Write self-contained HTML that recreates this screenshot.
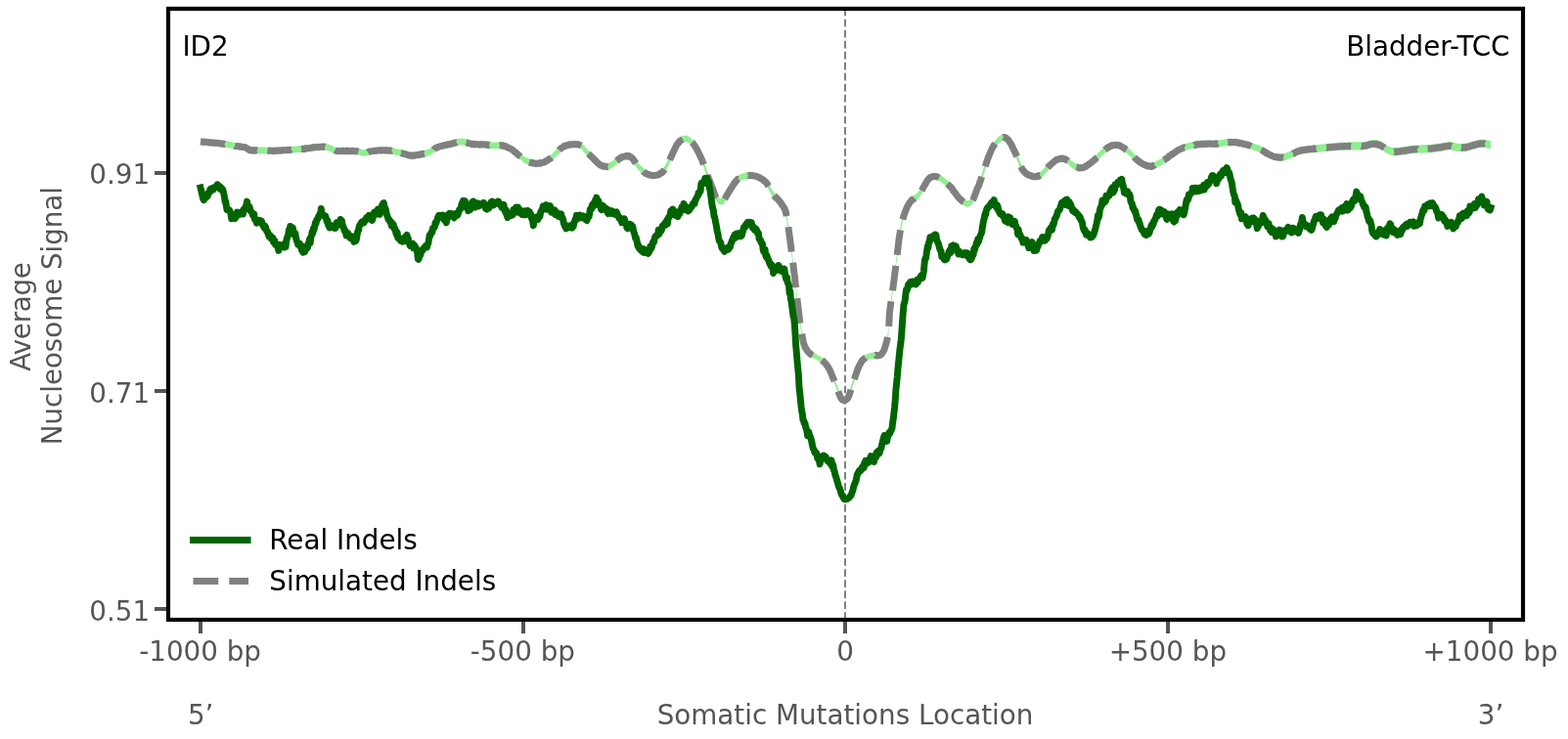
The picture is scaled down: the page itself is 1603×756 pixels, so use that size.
<!DOCTYPE html>
<html lang="en"><head><meta charset="utf-8"><title>Nucleosome occupancy - ID2 - Bladder-TCC</title>
<style>html,body{margin:0;padding:0;background:#fff;overflow:hidden}svg{display:block}</style></head>
<body>
<svg width="1603" height="756" viewBox="0 0 1603 756" font-family="'DejaVu Sans', 'Liberation Sans', sans-serif" font-size="27.78px">
<rect width="1603" height="756" fill="#fff"/>
<line x1="864" y1="634.0" x2="864" y2="8.9" stroke="#808080" stroke-width="2" stroke-dasharray="7.7 3.33"/>
<path d="M205.0 141.5 L207.7 141.8 L211.6 142.1 L216.2 142.6 L220.9 143.0 L225.2 143.5 L228.7 143.9 L231.3 144.2 L233.3 144.6 L235.0 144.9 L236.5 145.2 L238.0 145.6 L239.6 145.9 L241.5 146.1 L243.5 146.4 L245.4 146.6 L247.3 146.8 L249.0 147.1 L250.6 147.4 L251.8 147.9 L252.8 148.4 L253.6 149.0 L254.4 149.6 L255.3 150.1 L256.5 150.4 L257.9 150.6 L259.4 150.6 L261.0 150.6 L262.7 150.5 L264.5 150.4 L266.4 150.4 L268.5 150.5 L270.8 150.6 L273.1 150.7 L275.5 150.8 L278.0 150.8 L280.3 150.8 L282.6 150.8 L284.9 150.6 L287.3 150.5 L289.6 150.3 L291.9 150.2 L294.2 150.0 L296.5 149.9 L298.8 149.7 L301.2 149.6 L303.5 149.4 L305.8 149.2 L308.1 149.0 L310.5 148.8 L312.9 148.5 L315.3 148.2 L317.6 147.9 L319.9 147.7 L322.0 147.4 L323.9 147.3 L325.7 147.1 L327.4 146.9 L329.0 146.8 L330.5 146.8 L331.9 146.8 L333.1 147.0 L334.2 147.2 L335.1 147.4 L336.0 147.8 L336.9 148.1 L337.9 148.4 L338.8 148.8 L339.8 149.3 L340.8 149.8 L341.7 150.3 L342.7 150.7 L343.8 151.0 L344.9 151.2 L345.9 151.2 L346.9 151.2 L348.0 151.1 L349.4 151.0 L351.0 151.0 L353.0 151.0 L355.3 151.1 L357.9 151.1 L360.5 151.2 L362.9 151.3 L364.8 151.4 L366.4 151.6 L367.6 152.0 L368.7 152.3 L369.7 152.7 L370.7 152.9 L371.8 153.0 L373.0 152.9 L374.2 152.7 L375.5 152.4 L376.8 152.0 L378.2 151.7 L379.7 151.4 L381.4 151.2 L383.2 151.0 L385.1 150.8 L387.0 150.6 L388.8 150.5 L390.6 150.4 L392.4 150.4 L394.2 150.5 L395.9 150.6 L397.6 150.7 L399.1 150.9 L400.6 151.0 L401.8 151.2 L402.8 151.4 L403.7 151.6 L404.6 151.9 L405.5 152.2 L406.5 152.4 L407.6 152.7 L408.7 152.9 L409.9 153.2 L411.1 153.4 L412.3 153.7 L413.5 154.0 L414.6 154.3 L415.6 154.7 L416.6 155.1 L417.7 155.4 L419.0 155.7 L420.4 155.8 L422.1 155.7 L424.1 155.5 L426.3 155.1 L428.4 154.7 L430.5 154.4 L432.3 154.0 L433.9 153.7 L435.2 153.4 L436.5 153.1 L437.7 152.7 L439.0 152.3 L440.2 151.8 L441.5 151.2 L442.6 150.4 L443.7 149.5 L444.9 148.7 L446.4 147.8 L448.2 147.0 L450.5 146.3 L453.2 145.6 L456.1 144.9 L459.1 144.2 L461.8 143.6 L464.0 143.1 L465.8 142.6 L467.3 142.2 L468.5 141.9 L469.6 141.7 L470.8 141.5 L472.0 141.5 L473.3 141.6 L474.6 141.9 L476.0 142.3 L477.3 142.8 L478.6 143.2 L479.9 143.5 L481.3 143.7 L482.6 143.9 L484.0 144.1 L485.4 144.2 L486.6 144.4 L487.9 144.5 L489.0 144.5 L490.0 144.5 L491.0 144.5 L492.0 144.5 L492.9 144.5 L493.8 144.5 L494.7 144.5 L495.6 144.6 L496.4 144.6 L497.2 144.7 L498.1 144.8 L499.0 144.9 L499.9 145.0 L500.7 145.1 L501.6 145.2 L502.6 145.3 L503.7 145.4 L504.9 145.5 L506.4 145.5 L508.0 145.5 L509.8 145.5 L511.5 145.5 L513.3 145.6 L514.8 145.9 L516.3 146.2 L517.6 146.7 L518.9 147.3 L520.2 147.9 L521.5 148.7 L522.8 149.4 L524.1 150.3 L525.5 151.3 L526.8 152.3 L528.1 153.3 L529.4 154.4 L530.7 155.4 L531.9 156.4 L533.0 157.4 L534.1 158.4 L535.2 159.3 L536.4 160.2 L537.7 160.9 L539.0 161.6 L540.5 162.2 L542.1 162.7 L543.6 163.2 L545.1 163.5 L546.6 163.7 L548.0 163.8 L549.3 163.8 L550.6 163.7 L551.9 163.6 L553.2 163.3 L554.5 162.9 L555.9 162.5 L557.2 161.9 L558.6 161.3 L559.9 160.6 L561.2 159.8 L562.5 159.0 L563.7 158.0 L564.8 156.9 L566.0 155.8 L567.1 154.6 L568.3 153.5 L569.4 152.4 L570.6 151.3 L571.7 150.2 L572.8 149.1 L574.0 148.1 L575.1 147.2 L576.3 146.5 L577.6 145.9 L578.9 145.4 L580.2 145.1 L581.5 144.8 L582.9 144.6 L584.3 144.5 L585.8 144.4 L587.3 144.3 L588.9 144.3 L590.5 144.4 L591.9 144.7 L593.2 145.1 L594.2 145.7 L595.1 146.4 L595.8 147.3 L596.4 148.3 L597.2 149.3 L598.2 150.4 L599.3 151.6 L600.6 152.9 L602.0 154.3 L603.4 155.7 L604.8 157.0 L606.1 158.4 L607.4 159.7 L608.8 161.1 L610.1 162.4 L611.4 163.7 L612.7 164.8 L614.0 165.7 L615.4 166.3 L616.8 166.7 L618.1 167.0 L619.5 167.1 L620.8 167.0 L622.0 166.9 L623.1 166.6 L624.1 166.1 L625.1 165.5 L626.0 164.8 L627.0 164.0 L627.9 163.3 L628.9 162.5 L629.9 161.7 L630.9 160.7 L631.9 159.8 L632.9 159.0 L633.9 158.4 L634.9 157.8 L635.9 157.4 L637.0 157.0 L638.0 156.7 L639.0 156.5 L639.8 156.4 L640.6 156.3 L641.3 156.2 L642.0 156.3 L642.6 156.4 L643.2 156.5 L643.8 156.8 L644.4 157.0 L644.8 157.3 L645.3 157.6 L645.7 158.0 L646.3 158.6 L647.0 159.3 L647.8 160.4 L648.7 161.6 L649.7 163.0 L650.7 164.5 L651.8 166.0 L652.9 167.3 L654.1 168.6 L655.4 169.9 L656.8 171.1 L658.2 172.3 L659.5 173.4 L660.9 174.2 L662.2 174.9 L663.5 175.4 L664.8 175.8 L666.2 176.1 L667.5 176.2 L668.8 176.2 L670.2 176.1 L671.5 175.8 L672.9 175.4 L674.2 174.9 L675.5 174.1 L676.7 173.2 L677.9 172.1 L678.9 170.8 L679.9 169.3 L680.9 167.7 L681.8 166.0 L682.7 164.3 L683.6 162.6 L684.4 160.8 L685.2 159.0 L686.0 157.1 L686.8 155.2 L687.7 153.4 L688.6 151.5 L689.5 149.5 L690.5 147.5 L691.5 145.6 L692.6 143.9 L693.6 142.5 L694.7 141.3 L695.9 140.4 L697.1 139.6 L698.3 139.1 L699.4 138.7 L700.6 138.5 L701.6 138.6 L702.6 138.8 L703.6 139.3 L704.6 139.9 L705.5 140.6 L706.5 141.5 L707.5 142.5 L708.5 143.6 L709.5 144.8 L710.5 146.2 L711.5 147.8 L712.5 149.4 L713.5 151.3 L714.5 153.3 L715.5 155.5 L716.5 157.8 L717.5 160.1 L718.4 162.3 L719.3 164.6 L720.1 166.9 L721.0 169.3 L721.8 171.6 L722.6 173.9 L723.4 176.2 L724.2 178.5 L725.1 180.7 L725.9 182.9 L726.8 185.1 L727.6 187.1 L728.3 189.1 L729.1 191.0 L729.7 192.9 L730.4 194.7 L731.0 196.3 L731.7 197.8 L732.3 199.0 L733.0 200.1 L733.6 200.9 L734.3 201.5 L734.9 202.0 L735.6 202.4 L736.3 202.6 L736.9 202.7 L737.5 202.8 L738.1 202.7 L738.8 202.4 L739.5 201.8 L740.2 201.0 L741.1 199.8 L742.0 198.3 L743.0 196.6 L744.1 194.7 L745.1 192.8 L746.2 191.1 L747.3 189.4 L748.4 187.6 L749.6 185.8 L750.8 184.0 L752.0 182.5 L753.1 181.2 L754.3 180.1 L755.4 179.3 L756.5 178.6 L757.7 178.1 L758.9 177.6 L760.1 177.2 L761.3 176.8 L762.7 176.5 L764.0 176.3 L765.3 176.2 L766.7 176.2 L768.0 176.2 L769.3 176.3 L770.7 176.5 L772.0 176.8 L773.3 177.1 L774.6 177.6 L776.0 178.2 L777.3 178.9 L778.7 179.7 L780.0 180.6 L781.4 181.7 L782.7 182.8 L783.9 184.2 L785.0 185.7 L786.0 187.6 L787.0 189.6 L788.0 191.6 L788.9 193.5 L789.8 195.1 L790.8 196.3 L791.7 197.3 L792.6 198.1 L793.5 198.9 L794.4 199.8 L795.4 200.9 L796.5 202.2 L797.7 203.7 L798.9 205.2 L800.1 206.8 L801.2 208.5 L802.0 210.2 L802.7 211.8 L803.2 213.4 L803.6 214.9 L803.9 216.7 L804.3 218.6 L804.7 220.8 L805.1 223.5 L805.6 226.4 L806.0 229.5 L806.4 232.7 L806.9 236.1 L807.3 239.4 L807.8 242.8 L808.2 246.3 L808.7 249.9 L809.1 253.5 L809.5 257.1 L810.0 260.7 L810.4 264.2 L810.9 267.6 L811.3 271.1 L811.7 274.6 L812.2 278.2 L812.6 281.9 L813.1 285.8 L813.5 289.8 L813.9 293.8 L814.4 297.9 L814.8 301.9 L815.3 305.8 L815.7 309.6 L816.2 313.4 L816.6 317.1 L817.1 320.7 L817.5 324.0 L817.9 327.0 L818.3 329.6 L818.6 331.8 L819.0 333.7 L819.3 335.5 L819.6 337.3 L820.0 339.1 L820.2 341.0 L820.5 342.8 L820.7 344.6 L821.0 346.4 L821.4 348.1 L821.9 349.7 L822.6 351.3 L823.4 352.9 L824.2 354.5 L825.1 355.9 L826.2 357.2 L827.2 358.4 L828.4 359.4 L829.7 360.1 L831.1 360.8 L832.5 361.4 L833.8 362.0 L835.2 362.7 L836.4 363.5 L837.7 364.3 L839.0 365.0 L840.2 365.8 L841.3 366.7 L842.4 367.6 L843.5 368.7 L844.4 369.8 L845.3 371.0 L846.1 372.2 L846.9 373.5 L847.7 374.9 L848.5 376.3 L849.2 377.9 L849.8 379.5 L850.5 381.1 L851.1 382.6 L851.7 384.1 L852.3 385.5 L852.8 386.8 L853.4 388.1 L853.9 389.3 L854.5 390.6 L855.0 392.0 L855.6 393.5 L856.1 395.2 L856.7 396.9 L857.3 398.5 L857.8 400.0 L858.3 401.3 L858.7 402.3 L859.1 403.1 L859.5 403.9 L859.8 404.5 L860.2 405.0 L860.6 405.5 L861.0 405.9 L861.4 406.3 L861.9 406.5 L862.3 406.7 L862.8 406.9 L863.2 406.9 L863.7 406.9 L864.1 406.7 L864.5 406.5 L865.0 406.2 L865.4 405.9 L865.9 405.4 L866.3 404.9 L866.7 404.4 L867.0 403.8 L867.4 403.1 L867.8 402.2 L868.2 401.2 L868.7 399.9 L869.1 398.5 L869.5 396.8 L869.9 395.2 L870.4 393.5 L870.9 391.9 L871.4 390.3 L871.9 388.8 L872.5 387.2 L873.1 385.7 L873.6 384.2 L874.2 382.6 L874.7 381.0 L875.3 379.4 L875.8 377.8 L876.3 376.3 L876.9 374.8 L877.5 373.3 L878.1 371.9 L878.7 370.6 L879.4 369.3 L880.0 368.1 L880.7 367.0 L881.5 366.0 L882.3 365.1 L883.1 364.3 L883.9 363.6 L884.8 363.0 L885.8 362.5 L886.8 362.0 L887.8 361.6 L888.9 361.3 L890.1 361.0 L891.2 360.8 L892.3 360.7 L893.4 360.6 L894.3 360.5 L895.3 360.6 L896.2 360.7 L897.0 360.7 L897.9 360.7 L898.7 360.5 L899.4 360.2 L900.1 359.8 L900.8 359.2 L901.4 358.6 L902.1 357.9 L902.6 357.2 L903.1 356.3 L903.6 355.2 L904.1 354.1 L904.5 352.9 L904.9 351.7 L905.3 350.5 L905.6 349.3 L906.0 348.0 L906.3 346.7 L906.7 345.4 L907.0 344.0 L907.3 342.6 L907.5 341.1 L907.8 339.8 L908.0 338.3 L908.2 336.8 L908.4 335.2 L908.6 333.3 L908.7 331.3 L908.7 329.3 L908.7 327.2 L908.8 324.8 L908.9 322.0 L909.2 318.6 L909.6 314.6 L910.3 310.1 L911.0 305.1 L911.7 299.9 L912.4 294.7 L913.1 289.5 L913.8 284.2 L914.5 278.7 L915.2 273.1 L915.9 267.7 L916.5 262.5 L917.1 257.8 L917.6 253.6 L918.0 249.8 L918.4 246.4 L918.8 243.1 L919.3 239.8 L919.8 236.6 L920.3 233.3 L920.9 230.1 L921.5 226.9 L922.2 223.9 L922.9 220.9 L923.7 218.1 L924.6 215.3 L925.6 212.7 L926.7 210.1 L927.8 207.7 L929.1 205.5 L930.3 203.5 L931.7 201.9 L933.2 200.7 L934.8 199.6 L936.4 198.5 L938.0 197.3 L939.6 195.6 L941.2 193.3 L942.8 190.5 L944.5 187.6 L946.1 184.7 L947.6 182.1 L949.0 180.2 L950.2 178.9 L951.2 178.1 L952.2 177.6 L953.1 177.4 L954.0 177.3 L954.9 177.2 L955.9 177.2 L956.9 177.3 L957.9 177.5 L958.9 177.9 L959.9 178.3 L960.9 178.8 L961.9 179.3 L962.9 180.0 L963.8 180.7 L964.8 181.5 L965.8 182.3 L966.8 183.2 L967.8 184.0 L968.8 184.9 L969.8 185.9 L970.8 186.9 L971.8 188.0 L972.8 189.1 L973.8 190.3 L974.8 191.7 L975.8 193.1 L976.7 194.5 L977.7 195.8 L978.7 197.0 L979.7 198.2 L980.8 199.3 L981.8 200.4 L982.8 201.4 L983.7 202.2 L984.7 203.0 L985.6 203.6 L986.4 204.2 L987.2 204.6 L988.0 204.9 L988.8 205.0 L989.6 205.0 L990.5 204.7 L991.3 204.3 L992.2 203.7 L993.0 203.0 L993.8 202.1 L994.6 201.0 L995.3 199.7 L996.0 198.1 L996.6 196.4 L997.3 194.6 L997.9 192.8 L998.6 191.1 L999.2 189.5 L999.9 187.8 L1000.6 186.2 L1001.2 184.6 L1001.9 182.9 L1002.5 181.2 L1003.2 179.3 L1003.9 177.3 L1004.5 175.3 L1005.2 173.3 L1005.8 171.3 L1006.5 169.3 L1007.2 167.3 L1007.8 165.3 L1008.4 163.2 L1009.1 161.2 L1009.8 159.3 L1010.5 157.4 L1011.2 155.4 L1012.0 153.5 L1012.8 151.6 L1013.7 149.7 L1014.5 148.0 L1015.4 146.4 L1016.4 145.0 L1017.4 143.7 L1018.4 142.4 L1019.4 141.3 L1020.4 140.3 L1021.4 139.5 L1022.3 138.8 L1023.1 138.1 L1023.9 137.7 L1024.7 137.3 L1025.5 137.1 L1026.3 137.1 L1027.2 137.3 L1028.0 137.6 L1028.8 138.1 L1029.7 138.7 L1030.5 139.5 L1031.3 140.5 L1032.1 141.6 L1033.0 143.0 L1033.9 144.6 L1034.7 146.2 L1035.5 147.9 L1036.3 149.4 L1037.0 150.9 L1037.7 152.3 L1038.3 153.8 L1039.0 155.3 L1039.6 156.8 L1040.2 158.3 L1040.9 160.0 L1041.5 161.7 L1042.2 163.5 L1042.8 165.2 L1043.5 166.8 L1044.2 168.3 L1045.0 169.5 L1045.7 170.6 L1046.5 171.7 L1047.3 172.6 L1048.2 173.4 L1049.2 174.2 L1050.2 174.9 L1051.3 175.6 L1052.5 176.1 L1053.7 176.6 L1054.9 177.0 L1056.1 177.2 L1057.3 177.3 L1058.5 177.3 L1059.6 177.2 L1060.8 177.0 L1062.0 176.7 L1063.1 176.2 L1064.1 175.5 L1065.1 174.6 L1066.1 173.5 L1067.1 172.4 L1068.0 171.3 L1069.0 170.2 L1070.0 169.2 L1071.0 168.2 L1072.0 167.2 L1073.0 166.2 L1074.0 165.2 L1075.0 164.3 L1076.0 163.4 L1076.9 162.5 L1077.9 161.7 L1078.9 160.9 L1079.9 160.2 L1080.9 159.7 L1081.9 159.3 L1082.9 159.1 L1084.0 158.9 L1085.0 158.8 L1085.9 158.9 L1086.9 158.9 L1087.8 159.1 L1088.7 159.3 L1089.5 159.7 L1090.3 160.0 L1091.1 160.5 L1091.8 160.9 L1092.4 161.4 L1092.9 161.9 L1093.4 162.5 L1093.8 163.1 L1094.3 163.7 L1095.0 164.3 L1095.8 164.9 L1096.8 165.5 L1097.8 166.1 L1098.9 166.7 L1099.9 167.3 L1101.0 167.7 L1101.9 168.0 L1102.9 168.2 L1103.9 168.4 L1104.8 168.5 L1105.9 168.4 L1106.9 168.3 L1108.0 167.9 L1109.1 167.3 L1110.3 166.7 L1111.5 165.9 L1112.7 165.1 L1113.8 164.3 L1115.0 163.4 L1116.2 162.5 L1117.3 161.5 L1118.5 160.5 L1119.6 159.4 L1120.8 158.3 L1122.0 157.2 L1123.1 156.0 L1124.3 154.8 L1125.4 153.6 L1126.6 152.4 L1127.7 151.4 L1128.9 150.4 L1130.0 149.4 L1131.1 148.6 L1132.3 147.7 L1133.5 147.0 L1134.7 146.4 L1136.0 145.9 L1137.3 145.5 L1138.7 145.2 L1140.0 145.0 L1141.3 144.9 L1142.6 145.0 L1143.8 145.3 L1145.0 145.7 L1146.2 146.3 L1147.4 147.0 L1148.5 147.7 L1149.6 148.4 L1150.6 149.1 L1151.6 149.9 L1152.5 150.7 L1153.5 151.5 L1154.5 152.4 L1155.5 153.4 L1156.6 154.4 L1157.8 155.6 L1158.9 156.9 L1160.1 158.1 L1161.3 159.3 L1162.5 160.3 L1163.6 161.2 L1164.8 162.1 L1165.9 162.9 L1167.1 163.6 L1168.2 164.3 L1169.4 164.9 L1170.6 165.4 L1171.7 165.9 L1172.9 166.3 L1174.0 166.6 L1175.2 166.8 L1176.3 166.9 L1177.5 166.7 L1178.7 166.4 L1179.8 165.9 L1181.0 165.4 L1182.1 164.8 L1183.3 164.3 L1184.4 163.7 L1185.6 163.1 L1186.7 162.5 L1187.8 161.8 L1189.0 161.1 L1190.2 160.3 L1191.5 159.4 L1192.8 158.4 L1194.1 157.4 L1195.5 156.3 L1196.8 155.3 L1198.2 154.3 L1199.5 153.4 L1200.8 152.5 L1202.1 151.7 L1203.5 150.9 L1204.8 150.1 L1206.1 149.4 L1207.4 148.8 L1208.7 148.2 L1210.0 147.7 L1211.3 147.3 L1212.6 146.8 L1214.0 146.4 L1215.6 146.0 L1217.2 145.6 L1218.9 145.3 L1220.6 144.9 L1222.3 144.7 L1224.0 144.4 L1225.6 144.2 L1227.2 144.1 L1228.9 144.0 L1230.5 143.9 L1232.2 143.9 L1233.9 143.8 L1235.7 143.8 L1237.6 143.8 L1239.6 143.8 L1241.5 143.8 L1243.3 143.7 L1245.0 143.6 L1246.5 143.5 L1247.9 143.3 L1249.2 143.0 L1250.4 142.8 L1251.7 142.6 L1252.9 142.4 L1254.3 142.3 L1255.6 142.2 L1256.9 142.1 L1258.2 142.0 L1259.6 142.0 L1260.9 142.0 L1262.2 142.1 L1263.4 142.3 L1264.7 142.4 L1266.0 142.7 L1267.4 142.9 L1268.8 143.2 L1270.3 143.6 L1272.0 143.9 L1273.6 144.4 L1275.3 144.8 L1277.1 145.3 L1278.7 145.8 L1280.4 146.3 L1282.1 146.9 L1283.8 147.4 L1285.5 148.0 L1287.1 148.6 L1288.7 149.3 L1290.1 150.1 L1291.4 150.9 L1292.7 151.8 L1294.0 152.7 L1295.3 153.5 L1296.6 154.2 L1297.9 154.9 L1299.2 155.5 L1300.6 156.0 L1301.9 156.5 L1303.2 156.9 L1304.5 157.1 L1305.8 157.3 L1307.2 157.5 L1308.5 157.5 L1309.8 157.4 L1311.1 157.3 L1312.5 157.1 L1313.8 156.8 L1315.1 156.3 L1316.4 155.8 L1317.8 155.2 L1319.1 154.6 L1320.4 154.1 L1321.7 153.5 L1323.0 152.9 L1324.2 152.3 L1325.5 151.7 L1326.9 151.1 L1328.3 150.6 L1329.9 150.2 L1331.5 149.9 L1333.2 149.7 L1334.9 149.4 L1336.6 149.2 L1338.3 149.0 L1339.9 148.8 L1341.6 148.6 L1343.2 148.4 L1344.9 148.2 L1346.5 148.1 L1348.2 147.9 L1349.8 147.7 L1351.4 147.6 L1353.0 147.4 L1354.6 147.2 L1356.3 147.0 L1358.1 146.8 L1360.0 146.7 L1361.9 146.5 L1363.9 146.3 L1366.0 146.1 L1368.0 145.9 L1370.0 145.8 L1372.0 145.7 L1373.9 145.6 L1375.9 145.5 L1377.8 145.4 L1379.9 145.4 L1381.9 145.3 L1384.1 145.3 L1386.4 145.3 L1388.7 145.3 L1391.0 145.3 L1393.1 145.2 L1395.0 145.1 L1396.6 144.8 L1398.0 144.5 L1399.3 144.0 L1400.5 143.6 L1401.7 143.3 L1402.9 143.1 L1404.3 143.1 L1405.6 143.2 L1407.0 143.3 L1408.3 143.6 L1409.6 143.9 L1410.9 144.3 L1412.1 144.9 L1413.3 145.6 L1414.4 146.4 L1415.5 147.3 L1416.7 148.0 L1417.8 148.7 L1418.9 149.2 L1420.0 149.7 L1421.1 150.2 L1422.2 150.6 L1423.4 150.9 L1424.8 151.1 L1426.2 151.1 L1427.8 151.1 L1429.5 150.9 L1431.3 150.7 L1433.0 150.5 L1434.7 150.3 L1436.3 150.0 L1438.0 149.8 L1439.6 149.4 L1441.3 149.1 L1442.9 148.9 L1444.6 148.7 L1446.3 148.5 L1447.9 148.5 L1449.6 148.4 L1451.2 148.4 L1452.9 148.3 L1454.5 148.3 L1456.2 148.2 L1457.8 148.1 L1459.5 148.0 L1461.1 148.0 L1462.8 147.8 L1464.4 147.7 L1466.1 147.5 L1467.8 147.3 L1469.5 147.0 L1471.2 146.8 L1472.8 146.5 L1474.4 146.3 L1475.8 146.1 L1477.2 145.8 L1478.5 145.5 L1479.7 145.3 L1481.0 145.1 L1482.3 145.1 L1483.6 145.2 L1484.9 145.5 L1486.3 145.8 L1487.6 146.2 L1488.9 146.5 L1490.2 146.7 L1491.6 146.8 L1492.9 146.9 L1494.2 146.9 L1495.5 146.9 L1496.9 146.8 L1498.2 146.7 L1499.5 146.5 L1500.8 146.1 L1502.1 145.7 L1503.5 145.3 L1504.8 144.9 L1506.1 144.5 L1507.4 144.2 L1508.7 143.8 L1510.0 143.4 L1511.3 143.1 L1512.6 142.8 L1514.0 142.7 L1515.7 142.8 L1517.6 142.9 L1519.5 143.2 L1521.3 143.5 L1522.9 143.8 L1524.0 143.9 L1524.0 152.1 L1522.9 152.0 L1521.3 151.7 L1519.5 151.4 L1517.6 151.1 L1515.7 151.0 L1514.0 150.9 L1512.6 151.0 L1511.3 151.3 L1510.0 151.6 L1508.7 152.0 L1507.4 152.4 L1506.1 152.7 L1504.8 153.1 L1503.5 153.5 L1502.1 153.9 L1500.8 154.3 L1499.5 154.7 L1498.2 154.9 L1496.9 155.0 L1495.5 155.1 L1494.2 155.1 L1492.9 155.1 L1491.6 155.0 L1490.2 154.9 L1488.9 154.7 L1487.6 154.4 L1486.3 154.0 L1484.9 153.7 L1483.6 153.4 L1482.3 153.3 L1481.0 153.3 L1479.7 153.5 L1478.5 153.7 L1477.2 154.0 L1475.8 154.3 L1474.4 154.5 L1472.8 154.7 L1471.2 155.0 L1469.5 155.2 L1467.8 155.5 L1466.1 155.7 L1464.4 155.9 L1462.8 156.0 L1461.1 156.2 L1459.5 156.2 L1457.8 156.3 L1456.2 156.4 L1454.5 156.5 L1452.9 156.5 L1451.2 156.6 L1449.6 156.6 L1447.9 156.7 L1446.3 156.7 L1444.6 156.9 L1442.9 157.1 L1441.3 157.3 L1439.6 157.6 L1438.0 158.0 L1436.3 158.2 L1434.7 158.5 L1433.0 158.7 L1431.3 158.9 L1429.5 159.1 L1427.8 159.3 L1426.2 159.3 L1424.8 159.3 L1423.4 159.1 L1422.2 158.8 L1421.1 158.4 L1420.0 157.9 L1418.9 157.4 L1417.8 156.9 L1416.7 156.2 L1415.5 155.5 L1414.4 154.6 L1413.3 153.8 L1412.1 153.1 L1410.9 152.5 L1409.6 152.1 L1408.3 151.8 L1407.0 151.5 L1405.6 151.4 L1404.3 151.3 L1402.9 151.3 L1401.7 151.5 L1400.5 151.8 L1399.3 152.2 L1398.0 152.7 L1396.6 153.0 L1395.0 153.3 L1393.1 153.4 L1391.0 153.5 L1388.7 153.5 L1386.4 153.5 L1384.1 153.5 L1381.9 153.5 L1379.9 153.6 L1377.8 153.6 L1375.9 153.6 L1373.9 153.7 L1372.0 153.7 L1370.0 153.8 L1368.0 153.9 L1366.0 154.1 L1363.9 154.2 L1361.9 154.4 L1360.0 154.6 L1358.1 154.7 L1356.3 154.9 L1354.6 155.0 L1353.0 155.2 L1351.4 155.4 L1349.8 155.5 L1348.2 155.7 L1346.5 155.8 L1344.9 155.9 L1343.2 156.1 L1341.6 156.2 L1339.9 156.4 L1338.3 156.6 L1336.6 156.8 L1334.9 157.0 L1333.2 157.2 L1331.5 157.4 L1329.9 157.7 L1328.3 158.1 L1326.9 158.6 L1325.5 159.1 L1324.2 159.7 L1323.0 160.3 L1321.7 160.9 L1320.4 161.4 L1319.1 162.0 L1317.8 162.5 L1316.4 163.1 L1315.1 163.6 L1313.8 164.0 L1312.5 164.3 L1311.1 164.5 L1309.8 164.7 L1308.5 164.7 L1307.2 164.6 L1305.8 164.5 L1304.5 164.3 L1303.2 164.0 L1301.9 163.6 L1300.6 163.1 L1299.2 162.5 L1297.9 161.9 L1296.6 161.3 L1295.3 160.5 L1294.0 159.7 L1292.7 158.8 L1291.4 157.9 L1290.1 157.0 L1288.7 156.2 L1287.1 155.5 L1285.5 154.9 L1283.8 154.3 L1282.1 153.7 L1280.4 153.1 L1278.7 152.6 L1277.1 152.1 L1275.3 151.6 L1273.6 151.2 L1272.0 150.7 L1270.3 150.4 L1268.8 150.0 L1267.4 149.7 L1266.0 149.5 L1264.7 149.2 L1263.4 149.1 L1262.2 148.9 L1260.9 148.8 L1259.6 148.8 L1258.2 148.8 L1256.9 148.9 L1255.6 149.0 L1254.3 149.1 L1252.9 149.2 L1251.7 149.4 L1250.4 149.6 L1249.2 149.8 L1247.9 150.1 L1246.5 150.3 L1245.0 150.4 L1243.3 150.5 L1241.5 150.5 L1239.6 150.6 L1237.6 150.6 L1235.7 150.6 L1233.9 150.6 L1232.2 150.7 L1230.5 150.7 L1228.9 150.8 L1227.2 150.9 L1225.6 151.0 L1224.0 151.2 L1222.3 151.4 L1220.6 151.7 L1218.9 152.1 L1217.2 152.4 L1215.6 152.8 L1214.0 153.2 L1212.6 153.6 L1211.3 154.0 L1210.0 154.5 L1208.7 155.0 L1207.4 155.5 L1206.1 156.2 L1204.8 156.9 L1203.5 157.6 L1202.1 158.5 L1200.8 159.3 L1199.5 160.2 L1198.2 161.1 L1196.8 162.1 L1195.5 163.1 L1194.1 164.2 L1192.8 165.2 L1191.5 166.2 L1190.2 167.1 L1189.0 167.9 L1187.8 168.6 L1186.7 169.3 L1185.6 169.9 L1184.4 170.5 L1183.3 171.0 L1182.1 171.6 L1181.0 172.2 L1179.8 172.7 L1178.7 173.2 L1177.5 173.5 L1176.3 173.6 L1175.2 173.6 L1174.0 173.4 L1172.9 173.1 L1171.7 172.7 L1170.6 172.2 L1169.4 171.6 L1168.2 171.1 L1167.1 170.4 L1165.9 169.7 L1164.8 168.9 L1163.6 168.0 L1162.5 167.1 L1161.3 166.0 L1160.1 164.9 L1158.9 163.6 L1157.8 162.4 L1156.6 161.2 L1155.5 160.1 L1154.5 159.2 L1153.5 158.3 L1152.5 157.4 L1151.6 156.6 L1150.6 155.9 L1149.6 155.2 L1148.5 154.5 L1147.4 153.7 L1146.2 153.1 L1145.0 152.5 L1143.8 152.1 L1142.6 151.8 L1141.3 151.7 L1140.0 151.8 L1138.7 152.0 L1137.3 152.3 L1136.0 152.7 L1134.7 153.2 L1133.5 153.8 L1132.3 154.5 L1131.1 155.3 L1130.0 156.2 L1128.9 157.2 L1127.7 158.1 L1126.6 159.2 L1125.4 160.3 L1124.3 161.6 L1123.1 162.8 L1122.0 164.0 L1120.8 165.1 L1119.6 166.2 L1118.5 167.2 L1117.3 168.2 L1116.2 169.2 L1115.0 170.2 L1113.8 171.0 L1112.7 171.9 L1111.5 172.7 L1110.3 173.4 L1109.1 174.1 L1108.0 174.6 L1106.9 175.0 L1105.9 175.2 L1104.8 175.2 L1103.9 175.2 L1102.9 175.0 L1101.9 174.7 L1101.0 174.4 L1099.9 174.0 L1098.9 173.5 L1097.8 172.9 L1096.8 172.3 L1095.8 171.6 L1095.0 171.0 L1094.3 170.5 L1093.8 169.9 L1093.4 169.3 L1092.9 168.7 L1092.4 168.1 L1091.8 167.7 L1091.1 167.2 L1090.3 166.8 L1089.5 166.4 L1088.7 166.1 L1087.8 165.8 L1086.9 165.7 L1085.9 165.6 L1085.0 165.6 L1084.0 165.7 L1082.9 165.8 L1081.9 166.1 L1080.9 166.5 L1079.9 167.0 L1078.9 167.7 L1077.9 168.4 L1076.9 169.3 L1076.0 170.1 L1075.0 171.0 L1074.0 171.9 L1073.0 172.9 L1072.0 173.9 L1071.0 174.9 L1070.0 176.0 L1069.0 177.0 L1068.0 178.0 L1067.1 179.2 L1066.1 180.3 L1065.1 181.3 L1064.1 182.2 L1063.1 182.9 L1062.0 183.4 L1060.8 183.8 L1059.6 184.0 L1058.5 184.1 L1057.3 184.0 L1056.1 183.9 L1054.9 183.7 L1053.7 183.3 L1052.5 182.9 L1051.3 182.3 L1050.2 181.7 L1049.2 180.9 L1048.2 180.2 L1047.3 179.3 L1046.5 178.4 L1045.7 177.4 L1045.0 176.3 L1044.2 175.0 L1043.5 173.6 L1042.8 171.9 L1042.2 170.2 L1041.5 168.5 L1040.9 166.7 L1040.2 165.1 L1039.6 163.5 L1039.0 162.0 L1038.3 160.5 L1037.7 159.1 L1037.0 157.6 L1036.3 156.1 L1035.5 154.6 L1034.7 153.0 L1033.9 151.3 L1033.0 149.8 L1032.1 148.4 L1031.3 147.2 L1030.5 146.3 L1029.7 145.5 L1028.8 144.8 L1028.0 144.3 L1027.2 144.0 L1026.3 143.8 L1025.5 143.9 L1024.7 144.0 L1023.9 144.4 L1023.1 144.9 L1022.3 145.5 L1021.4 146.2 L1020.4 147.1 L1019.4 148.1 L1018.4 149.2 L1017.4 150.4 L1016.4 151.7 L1015.4 153.2 L1014.5 154.7 L1013.7 156.5 L1012.8 158.3 L1012.0 160.2 L1011.2 162.2 L1010.5 164.1 L1009.8 166.0 L1009.1 168.0 L1008.4 170.0 L1007.8 172.0 L1007.2 174.0 L1006.5 176.0 L1005.8 178.0 L1005.2 180.0 L1004.5 182.1 L1003.9 184.1 L1003.2 186.0 L1002.5 187.9 L1001.9 189.7 L1001.2 191.3 L1000.6 193.0 L999.9 194.6 L999.2 196.2 L998.6 197.8 L997.9 199.5 L997.3 201.3 L996.6 203.1 L996.0 204.9 L995.3 206.4 L994.6 207.7 L993.8 208.8 L993.0 209.7 L992.2 210.5 L991.3 211.0 L990.5 211.4 L989.6 211.7 L988.8 211.8 L988.0 211.6 L987.2 211.3 L986.4 210.9 L985.6 210.3 L984.7 209.7 L983.7 209.0 L982.8 208.1 L981.8 207.1 L980.8 206.0 L979.7 204.9 L978.7 203.8 L977.7 202.5 L976.7 201.2 L975.8 199.8 L974.8 198.4 L973.8 197.0 L972.8 195.8 L971.8 194.7 L970.8 193.6 L969.8 192.6 L968.8 191.7 L967.8 190.7 L966.8 189.9 L965.8 189.0 L964.8 188.2 L963.8 187.4 L962.9 186.7 L961.9 186.0 L960.9 185.5 L959.9 185.0 L958.9 184.6 L957.9 184.2 L956.9 184.0 L955.9 183.9 L954.9 183.9 L954.0 184.0 L953.1 184.1 L952.2 184.3 L951.2 184.8 L950.2 185.6 L949.0 186.9 L947.6 188.8 L946.1 191.4 L944.5 194.3 L942.8 197.3 L941.2 200.0 L939.6 202.3 L938.0 204.0 L936.4 205.2 L934.8 206.3 L933.2 207.4 L931.7 208.6 L930.3 210.2 L929.1 212.2 L927.8 214.4 L926.7 216.8 L925.6 219.4 L924.6 222.0 L923.7 224.8 L922.9 227.6 L922.2 230.6 L921.5 233.6 L920.9 236.8 L920.3 240.0 L919.8 243.3 L919.3 246.6 L918.8 249.8 L918.4 253.1 L918.0 256.5 L917.6 260.3 L917.1 264.5 L916.5 269.2 L915.9 274.4 L915.2 279.8 L914.5 285.4 L913.8 290.9 L913.1 296.2 L912.4 301.4 L911.7 306.6 L911.0 311.8 L910.3 316.8 L909.6 321.3 L909.2 325.3 L908.9 328.6 L908.8 331.4 L908.7 333.9 L908.7 336.0 L908.7 338.0 L908.6 339.9 L908.4 341.8 L908.2 343.5 L908.0 345.0 L907.8 346.4 L907.5 347.8 L907.3 349.2 L907.0 350.6 L906.7 352.0 L906.3 353.3 L906.0 354.6 L905.6 355.9 L905.3 357.1 L904.9 358.3 L904.5 359.5 L904.1 360.7 L903.6 361.8 L903.1 362.8 L902.6 363.7 L902.1 364.5 L901.4 365.1 L900.8 365.7 L900.1 366.2 L899.4 366.6 L898.7 366.9 L897.9 367.1 L897.0 367.1 L896.2 367.0 L895.3 366.9 L894.3 366.9 L893.4 366.9 L892.3 367.0 L891.2 367.1 L890.1 367.3 L888.9 367.5 L887.8 367.8 L886.8 368.1 L885.8 368.6 L884.8 369.1 L883.9 369.7 L883.1 370.4 L882.3 371.2 L881.5 372.0 L880.7 373.0 L880.0 374.1 L879.4 375.3 L878.7 376.6 L878.1 377.9 L877.5 379.3 L876.9 380.7 L876.3 382.2 L875.8 383.8 L875.3 385.4 L874.7 386.9 L874.2 388.5 L873.6 390.0 L873.1 391.6 L872.5 393.1 L871.9 394.7 L871.4 396.2 L870.9 397.7 L870.4 399.3 L869.9 401.0 L869.5 402.7 L869.1 404.3 L868.7 405.7 L868.2 407.0 L867.8 408.0 L867.4 408.9 L867.0 409.6 L866.7 410.2 L866.3 410.7 L865.9 411.2 L865.4 411.6 L865.0 412.0 L864.5 412.3 L864.1 412.5 L863.7 412.6 L863.2 412.6 L862.8 412.6 L862.3 412.4 L861.9 412.2 L861.4 411.9 L861.0 411.6 L860.6 411.1 L860.2 410.7 L859.8 410.1 L859.5 409.5 L859.1 408.8 L858.7 407.9 L858.3 406.9 L857.8 405.6 L857.3 404.1 L856.7 402.5 L856.1 400.8 L855.6 399.1 L855.0 397.6 L854.5 396.2 L853.9 394.9 L853.4 393.6 L852.8 392.3 L852.3 391.0 L851.7 389.6 L851.1 388.1 L850.5 386.6 L849.8 384.9 L849.2 383.3 L848.5 381.8 L847.7 380.3 L846.9 379.0 L846.1 377.7 L845.3 376.4 L844.4 375.2 L843.5 374.1 L842.4 373.0 L841.3 372.1 L840.2 371.2 L839.0 370.4 L837.7 369.7 L836.4 368.9 L835.2 368.1 L833.8 367.4 L832.5 366.8 L831.1 366.2 L829.7 365.5 L828.4 364.8 L827.2 363.8 L826.2 362.6 L825.1 361.3 L824.2 359.9 L823.4 358.4 L822.6 356.8 L821.9 355.3 L821.4 353.6 L821.0 352.0 L820.7 350.2 L820.5 348.4 L820.2 346.6 L820.0 344.7 L819.6 342.9 L819.3 341.2 L819.0 339.4 L818.6 337.5 L818.3 335.3 L817.9 332.8 L817.5 329.8 L817.1 326.5 L816.6 323.0 L816.2 319.2 L815.7 315.5 L815.3 311.7 L814.8 307.8 L814.4 303.9 L813.9 299.8 L813.5 295.8 L813.1 291.8 L812.6 287.9 L812.2 284.3 L811.7 280.7 L811.3 277.2 L810.9 273.8 L810.4 270.3 L810.0 266.8 L809.5 263.3 L809.1 259.7 L808.7 256.1 L808.2 252.6 L807.8 249.1 L807.3 245.8 L806.9 242.4 L806.4 239.1 L806.0 235.9 L805.6 232.8 L805.1 229.9 L804.7 227.3 L804.3 225.1 L803.9 223.2 L803.6 221.5 L803.2 219.9 L802.7 218.4 L802.0 216.8 L801.2 215.2 L800.1 213.5 L798.9 211.9 L797.7 210.4 L796.5 208.9 L795.4 207.6 L794.4 206.5 L793.5 205.6 L792.6 204.8 L791.7 204.0 L790.8 203.0 L789.8 201.8 L788.9 200.2 L788.0 198.3 L787.0 196.3 L786.0 194.3 L785.0 192.4 L783.9 190.8 L782.7 189.5 L781.4 188.4 L780.0 187.3 L778.7 186.4 L777.3 185.6 L776.0 184.9 L774.6 184.3 L773.3 183.8 L772.0 183.5 L770.7 183.2 L769.3 183.0 L768.0 182.9 L766.7 182.9 L765.3 182.9 L764.0 183.0 L762.7 183.2 L761.3 183.5 L760.1 183.9 L758.9 184.3 L757.7 184.8 L756.5 185.3 L755.4 186.0 L754.3 186.8 L753.1 187.9 L752.0 189.2 L750.8 190.7 L749.6 192.5 L748.4 194.3 L747.3 196.1 L746.2 197.8 L745.1 199.5 L744.1 201.4 L743.0 203.3 L742.0 205.0 L741.1 206.5 L740.2 207.7 L739.5 208.5 L738.8 209.1 L738.1 209.4 L737.5 209.5 L736.9 209.4 L736.3 209.3 L735.6 209.1 L734.9 208.7 L734.3 208.2 L733.6 207.6 L733.0 206.8 L732.3 205.7 L731.7 204.5 L731.0 203.0 L730.4 201.4 L729.7 199.6 L729.1 197.7 L728.3 195.8 L727.6 193.8 L726.8 191.8 L725.9 189.6 L725.1 187.4 L724.2 185.2 L723.4 182.9 L722.6 180.6 L721.8 178.3 L721.0 176.0 L720.1 173.6 L719.3 171.3 L718.4 169.0 L717.5 166.8 L716.5 164.5 L715.5 162.2 L714.5 160.0 L713.5 158.0 L712.5 156.1 L711.5 154.5 L710.5 152.9 L709.5 151.5 L708.5 150.3 L707.5 149.2 L706.5 148.2 L705.5 147.3 L704.6 146.6 L703.6 146.0 L702.6 145.5 L701.6 145.3 L700.6 145.2 L699.4 145.4 L698.3 145.8 L697.1 146.3 L695.9 147.1 L694.7 148.0 L693.6 149.2 L692.6 150.6 L691.5 152.3 L690.5 154.2 L689.5 156.2 L688.6 158.2 L687.7 160.1 L686.8 161.9 L686.0 163.8 L685.2 165.7 L684.4 167.5 L683.6 169.3 L682.7 171.0 L681.8 172.7 L680.9 174.4 L679.9 176.0 L678.9 177.5 L677.9 178.8 L676.7 179.9 L675.5 180.8 L674.2 181.6 L672.9 182.1 L671.5 182.5 L670.2 182.8 L668.8 182.9 L667.5 182.9 L666.2 182.8 L664.8 182.5 L663.5 182.1 L662.2 181.6 L660.9 180.9 L659.5 180.1 L658.2 179.0 L656.8 177.8 L655.4 176.6 L654.1 175.3 L652.9 174.0 L651.8 172.7 L650.7 171.2 L649.7 169.7 L648.7 168.3 L647.8 167.1 L647.0 166.0 L646.3 165.3 L645.7 164.7 L645.3 164.3 L644.8 164.0 L644.4 163.7 L643.8 163.5 L643.2 163.2 L642.6 163.1 L642.0 163.0 L641.3 162.9 L640.6 163.0 L639.8 163.1 L639.0 163.2 L638.0 163.4 L637.0 163.7 L635.9 164.1 L634.9 164.5 L633.9 165.1 L632.9 165.7 L631.9 166.5 L630.9 167.4 L629.9 168.4 L628.9 169.2 L627.9 170.0 L627.0 170.7 L626.0 171.5 L625.1 172.2 L624.1 172.8 L623.1 173.3 L622.0 173.6 L620.8 173.7 L619.5 173.8 L618.1 173.7 L616.8 173.4 L615.4 173.0 L614.0 172.4 L612.7 171.5 L611.4 170.4 L610.1 169.1 L608.8 167.8 L607.4 166.4 L606.1 165.1 L604.8 163.7 L603.4 162.4 L602.0 161.0 L600.6 159.6 L599.3 158.3 L598.2 157.1 L597.2 156.0 L596.4 155.0 L595.8 154.0 L595.1 153.1 L594.2 152.4 L593.2 151.8 L591.9 151.4 L590.5 151.1 L588.9 151.0 L587.3 151.0 L585.8 151.1 L584.3 151.2 L582.9 151.3 L581.5 151.5 L580.2 151.8 L578.9 152.1 L577.6 152.6 L576.3 153.2 L575.1 153.9 L574.0 154.8 L572.8 155.8 L571.7 156.9 L570.6 158.0 L569.4 159.1 L568.3 160.2 L567.1 161.3 L566.0 162.5 L564.8 163.6 L563.7 164.7 L562.5 165.7 L561.2 166.5 L559.9 167.3 L558.6 168.0 L557.2 168.6 L555.9 169.2 L554.5 169.6 L553.2 170.0 L551.9 170.3 L550.6 170.4 L549.3 170.5 L548.0 170.5 L546.6 170.4 L545.1 170.2 L543.6 169.9 L542.1 169.4 L540.5 168.9 L539.0 168.3 L537.7 167.6 L536.4 166.9 L535.2 166.0 L534.1 165.1 L533.0 164.1 L531.9 163.1 L530.7 162.1 L529.4 161.1 L528.1 160.0 L526.8 159.0 L525.5 158.0 L524.1 157.0 L522.8 156.1 L521.5 155.4 L520.2 154.6 L518.9 154.0 L517.6 153.4 L516.3 152.9 L514.8 152.6 L513.3 152.3 L511.5 152.2 L509.8 152.2 L508.0 152.2 L506.4 152.2 L504.9 152.2 L503.7 152.1 L502.6 152.0 L501.6 151.9 L500.7 151.8 L499.9 151.7 L499.0 151.6 L498.1 151.5 L497.2 151.4 L496.4 151.3 L495.6 151.3 L494.7 151.2 L493.8 151.2 L492.9 151.2 L492.0 151.2 L491.0 151.2 L490.0 151.2 L489.0 151.2 L487.9 151.2 L486.6 151.1 L485.4 150.9 L484.0 150.8 L482.6 150.6 L481.3 150.4 L479.9 150.2 L478.6 149.9 L477.3 149.5 L476.0 149.0 L474.6 148.6 L473.3 148.3 L472.0 148.2 L470.8 148.2 L469.6 148.4 L468.5 148.6 L467.3 148.9 L465.8 149.3 L464.0 149.8 L461.8 150.3 L459.1 150.9 L456.1 151.6 L453.2 152.3 L450.5 153.0 L448.2 153.7 L446.4 154.5 L444.9 155.4 L443.7 156.2 L442.6 157.1 L441.5 157.9 L440.2 158.5 L439.0 159.0 L437.7 159.4 L436.5 159.8 L435.2 160.1 L433.9 160.4 L432.3 160.7 L430.5 161.1 L428.4 161.4 L426.3 161.8 L424.1 162.2 L422.1 162.4 L420.4 162.5 L419.0 162.4 L417.7 162.1 L416.6 161.8 L415.6 161.4 L414.6 161.0 L413.5 160.7 L412.3 160.4 L411.1 160.1 L409.9 159.9 L408.7 159.6 L407.6 159.4 L406.5 159.1 L405.5 158.9 L404.6 158.6 L403.7 158.3 L402.8 158.1 L401.8 157.9 L400.6 157.7 L399.1 157.6 L397.6 157.4 L395.9 157.3 L394.2 157.2 L392.4 157.1 L390.6 157.1 L388.8 157.2 L387.0 157.3 L385.1 157.5 L383.2 157.7 L381.4 157.9 L379.7 158.1 L378.2 158.4 L376.8 158.7 L375.5 159.1 L374.2 159.4 L373.0 159.6 L371.8 159.7 L370.7 159.6 L369.7 159.4 L368.7 159.0 L367.6 158.7 L366.4 158.3 L364.8 158.1 L362.9 158.0 L360.5 157.9 L357.9 157.8 L355.3 157.8 L353.0 157.7 L351.0 157.7 L349.4 157.7 L348.0 157.8 L346.9 157.9 L345.9 157.9 L344.9 157.9 L343.8 157.7 L342.7 157.4 L341.7 157.0 L340.8 156.5 L339.8 156.0 L338.8 155.5 L337.9 155.1 L336.9 154.8 L336.0 154.5 L335.1 154.1 L334.2 153.9 L333.1 153.7 L331.9 153.5 L330.5 153.5 L329.0 153.5 L327.4 153.6 L325.7 153.8 L323.9 154.0 L322.0 154.1 L319.9 154.4 L317.6 154.6 L315.3 154.9 L312.9 155.2 L310.5 155.5 L308.1 155.7 L305.8 155.9 L303.5 156.1 L301.2 156.3 L298.8 156.4 L296.5 156.6 L294.2 156.7 L291.9 156.9 L289.6 157.0 L287.3 157.2 L284.9 157.3 L282.6 157.5 L280.3 157.5 L278.0 157.5 L275.5 157.5 L273.1 157.4 L270.8 157.3 L268.5 157.2 L266.4 157.1 L264.5 157.1 L262.7 157.2 L261.0 157.3 L259.4 157.3 L257.9 157.3 L256.5 157.1 L255.3 156.8 L254.4 156.3 L253.6 155.7 L252.8 155.1 L251.8 154.6 L250.6 154.1 L249.0 153.8 L247.3 153.5 L245.4 153.3 L243.5 153.1 L241.5 152.8 L239.6 152.6 L238.0 152.3 L236.5 151.9 L235.0 151.6 L233.3 151.3 L231.3 150.9 L228.7 150.6 L225.2 150.2 L220.9 149.7 L216.2 149.3 L211.6 148.8 L207.7 148.5 L205.0 148.2Z" fill="#90ee90"/>
<path d="M205.00 144.85 L205.66 144.98 L206.32 144.89 L206.98 145.09 L207.64 145.25 L208.30 145.23 L208.96 145.49 L209.62 145.13 L210.28 145.36 L210.94 145.29 L211.59 145.34 L212.25 145.50 L212.91 145.63 L213.57 145.73 L214.23 145.81 L214.89 146.16 L215.55 145.99 L216.21 145.64 L216.87 146.01 L217.53 145.93 L218.19 146.02 L218.85 146.39 L219.51 146.20 L220.17 145.97 L220.83 146.42 L221.49 146.38 L222.15 146.30 L222.81 146.41 L223.47 146.53 L224.13 146.70 L224.78 146.70 L225.44 146.86 L226.10 147.23 L226.76 146.86 L227.42 146.93 L228.08 147.11 L228.74 147.41 L229.40 147.20 L230.06 147.65 L230.72 147.28 L231.38 147.42 L232.04 147.70 L232.70 147.67 L233.36 147.83 L234.02 148.15 L234.68 148.32 L235.34 148.36 L236.00 148.44 L236.66 148.85 L237.32 148.83 L237.97 148.86 L238.63 149.23 L239.29 148.99 L239.95 149.28 L240.61 149.46 L241.27 149.44 L241.93 149.43 L242.59 149.67 L243.25 149.60 L243.91 149.66 L244.57 149.67 L245.23 150.14 L245.89 149.91 L246.55 150.28 L247.21 150.23 L247.87 150.22 L248.53 150.49 L249.19 150.54 L249.85 150.66 L250.51 150.55 L251.16 151.03 L251.82 151.42 L252.48 151.72 L253.14 152.23 L253.80 152.78 L254.46 153.04 L255.12 153.65 L255.78 153.30 L256.44 153.71 L257.10 153.41 L257.76 154.06 L258.42 153.97 L259.08 154.26 L259.74 153.90 L260.40 153.60 L261.06 154.14 L261.72 153.67 L262.38 153.65 L263.04 153.81 L263.70 153.92 L264.36 153.70 L265.01 153.81 L265.67 153.45 L266.33 154.06 L266.99 153.77 L267.65 153.82 L268.31 153.92 L268.97 153.87 L269.63 153.91 L270.29 153.74 L270.95 153.91 L271.61 154.03 L272.27 154.16 L272.93 153.99 L273.59 154.05 L274.25 154.12 L274.91 154.18 L275.57 154.14 L276.23 154.08 L276.89 154.05 L277.55 154.35 L278.20 154.22 L278.86 154.17 L279.52 154.76 L280.18 154.32 L280.84 154.30 L281.50 154.16 L282.16 153.95 L282.82 154.29 L283.48 154.05 L284.14 154.04 L284.80 154.18 L285.46 154.14 L286.12 153.97 L286.78 153.89 L287.44 154.20 L288.10 153.90 L288.76 153.58 L289.42 153.84 L290.08 153.69 L290.74 153.62 L291.39 153.68 L292.05 153.56 L292.71 153.82 L293.37 153.46 L294.03 153.43 L294.69 153.54 L295.35 153.20 L296.01 153.43 L296.67 153.21 L297.33 153.38 L297.99 152.99 L298.65 153.16 L299.31 152.78 L299.97 152.93 L300.63 152.96 L301.29 153.00 L301.95 153.21 L302.61 153.14 L303.27 152.55 L303.93 152.60 L304.58 152.89 L305.24 152.70 L305.90 152.34 L306.56 152.60 L307.22 152.27 L307.88 152.25 L308.54 152.12 L309.20 152.22 L309.86 152.58 L310.52 152.20 L311.18 152.04 L311.84 152.41 L312.50 151.82 L313.16 151.80 L313.82 151.70 L314.48 151.73 L315.14 151.53 L315.80 151.75 L316.46 151.37 L317.12 151.43 L317.77 151.29 L318.43 151.03 L319.09 150.94 L319.75 151.02 L320.41 150.57 L321.07 150.89 L321.73 150.83 L322.39 150.78 L323.05 150.68 L323.71 150.69 L324.37 150.51 L325.03 150.62 L325.69 150.17 L326.35 150.54 L327.01 150.18 L327.67 150.37 L328.33 150.16 L328.99 150.13 L329.65 150.05 L330.31 150.39 L330.96 149.99 L331.62 149.99 L332.28 150.27 L332.94 150.35 L333.60 150.42 L334.26 150.39 L334.92 150.63 L335.58 151.10 L336.24 151.01 L336.90 151.54 L337.56 151.80 L338.22 151.96 L338.88 152.00 L339.54 152.86 L340.20 152.90 L340.86 153.26 L341.52 153.49 L342.18 153.68 L342.84 154.05 L343.50 154.31 L344.15 154.27 L344.81 154.52 L345.47 154.72 L346.13 154.60 L346.79 154.49 L347.45 154.64 L348.11 154.58 L348.77 154.55 L349.43 154.24 L350.09 154.06 L350.75 154.50 L351.41 154.38 L352.07 154.32 L352.73 154.47 L353.39 154.32 L354.05 154.30 L354.71 154.72 L355.37 154.16 L356.03 154.58 L356.69 154.62 L357.34 154.76 L358.00 154.51 L358.66 154.57 L359.32 154.34 L359.98 154.52 L360.64 154.18 L361.30 154.46 L361.96 154.58 L362.62 154.60 L363.28 154.57 L363.94 154.90 L364.60 154.48 L365.26 154.85 L365.92 154.86 L366.58 155.05 L367.24 155.23 L367.90 155.74 L368.56 155.46 L369.22 156.09 L369.88 156.30 L370.53 156.20 L371.19 156.20 L371.85 156.14 L372.51 156.15 L373.17 156.58 L373.83 155.74 L374.49 156.05 L375.15 155.69 L375.81 155.96 L376.47 155.51 L377.13 155.06 L377.79 155.04 L378.45 155.02 L379.11 154.89 L379.77 154.60 L380.43 154.62 L381.09 154.50 L381.75 154.58 L382.41 154.47 L383.06 154.38 L383.72 154.17 L384.38 154.33 L385.04 154.04 L385.70 153.93 L386.36 153.94 L387.02 153.90 L387.68 153.86 L388.34 153.54 L389.00 154.06 L389.66 153.91 L390.32 154.01 L390.98 153.70 L391.64 153.90 L392.30 153.80 L392.96 153.79 L393.62 154.11 L394.28 153.73 L394.94 153.96 L395.60 153.61 L396.25 154.04 L396.91 153.97 L397.57 153.88 L398.23 154.01 L398.89 153.82 L399.55 154.07 L400.21 154.35 L400.87 153.97 L401.53 154.70 L402.19 154.80 L402.85 154.65 L403.51 154.69 L404.17 154.89 L404.83 155.10 L405.49 155.37 L406.15 156.03 L406.81 155.63 L407.47 156.10 L408.13 156.33 L408.79 156.11 L409.44 156.37 L410.10 156.68 L410.76 156.60 L411.42 157.08 L412.08 157.38 L412.74 157.16 L413.40 157.19 L414.06 157.62 L414.72 157.79 L415.38 157.85 L416.04 158.20 L416.70 158.49 L417.36 158.76 L418.02 159.04 L418.68 158.90 L419.34 158.84 L420.00 158.83 L420.66 159.43 L421.32 159.01 L421.98 158.98 L422.63 159.40 L423.29 159.10 L423.95 159.21 L424.61 158.71 L425.27 158.52 L425.93 158.45 L426.59 158.54 L427.25 158.38 L427.91 158.26 L428.57 158.46 L429.23 158.18 L429.89 157.63 L430.55 157.77 L431.21 157.66 L431.87 157.30 L432.53 157.69 L433.19 157.32 L433.85 157.29 L434.51 156.80 L435.17 156.56 L435.82 156.73 L436.48 156.41 L437.14 156.16 L437.80 156.06 L438.46 155.88 L439.12 155.64 L439.78 155.31 L440.44 155.13 L441.10 155.19 L441.76 154.50 L442.42 153.76 L443.08 153.71 L443.74 152.79 L444.40 152.14 L445.06 151.72 L445.72 151.22 L446.38 151.38 L447.04 150.71 L447.70 150.36 L448.36 150.24 L449.01 150.09 L449.67 149.70 L450.33 149.60 L450.99 149.51 L451.65 149.45 L452.31 149.00 L452.97 149.07 L453.63 148.86 L454.29 148.75 L454.95 148.40 L455.61 148.14 L456.27 148.34 L456.93 148.13 L457.59 147.76 L458.25 147.59 L458.91 147.69 L459.57 147.77 L460.23 147.35 L460.89 147.57 L461.55 147.04 L462.20 146.90 L462.86 146.78 L463.52 146.73 L464.18 146.14 L464.84 146.25 L465.50 146.28 L466.16 145.63 L466.82 145.76 L467.48 145.66 L468.14 145.65 L468.80 145.47 L469.46 145.05 L470.12 145.31 L470.78 144.68 L471.44 144.62 L472.10 145.08 L472.76 145.03 L473.42 144.81 L474.08 145.33 L474.74 145.45 L475.39 145.63 L476.05 145.63 L476.71 145.70 L477.37 145.85 L478.03 146.30 L478.69 146.51 L479.35 146.60 L480.01 146.74 L480.67 147.11 L481.33 146.87 L481.99 147.04 L482.65 147.61 L483.31 147.24 L483.97 147.33 L484.63 147.70 L485.29 147.28 L485.95 147.93 L486.61 147.50 L487.27 147.63 L487.93 147.60 L488.58 147.69 L489.24 147.74 L489.90 148.03 L490.56 147.85 L491.22 148.08 L491.88 147.96 L492.54 147.60 L493.20 147.81 L493.86 147.71 L494.52 147.78 L495.18 147.91 L495.84 148.00 L496.50 148.06 L497.16 147.68 L497.82 148.08 L498.48 148.09 L499.14 148.55 L499.80 148.25 L500.46 148.36 L501.12 148.45 L501.77 148.66 L502.43 148.40 L503.09 148.64 L503.75 148.70 L504.41 148.77 L505.07 148.77 L505.73 148.74 L506.39 148.86 L507.05 148.62 L507.71 149.12 L508.37 148.83 L509.03 148.52 L509.69 148.77 L510.35 148.99 L511.01 148.80 L511.67 148.83 L512.33 148.50 L512.99 149.18 L513.65 149.03 L514.31 148.78 L514.96 149.16 L515.62 149.66 L516.28 149.66 L516.94 149.57 L517.60 149.97 L518.26 150.39 L518.92 150.99 L519.58 151.02 L520.24 151.44 L520.90 151.63 L521.56 152.06 L522.22 152.27 L522.88 152.62 L523.54 153.03 L524.20 153.60 L524.86 154.38 L525.52 154.64 L526.18 155.35 L526.84 155.78 L527.50 156.20 L528.15 156.61 L528.81 157.59 L529.47 157.95 L530.13 158.48 L530.79 159.22 L531.45 159.60 L532.11 159.93 L532.77 160.55 L533.43 161.17 L534.09 162.06 L534.75 162.07 L535.41 162.47 L536.07 163.20 L536.73 163.72 L537.39 164.02 L538.05 164.63 L538.71 164.89 L539.37 165.08 L540.03 165.36 L540.69 165.93 L541.35 166.17 L542.00 166.35 L542.66 166.18 L543.32 166.64 L543.98 166.39 L544.64 166.42 L545.30 167.16 L545.96 167.12 L546.62 167.18 L547.28 167.36 L547.94 167.46 L548.60 167.23 L549.26 167.23 L549.92 167.24 L550.58 167.24 L551.24 167.03 L551.90 166.68 L552.56 167.19 L553.22 166.50 L553.88 166.35 L554.54 166.37 L555.19 166.04 L555.85 165.92 L556.51 165.97 L557.17 165.54 L557.83 164.91 L558.49 164.73 L559.15 164.32 L559.81 164.19 L560.47 163.43 L561.13 163.03 L561.79 162.47 L562.45 162.40 L563.11 161.86 L563.77 161.39 L564.43 160.82 L565.09 159.85 L565.75 159.34 L566.41 158.55 L567.07 158.26 L567.73 157.53 L568.38 156.48 L569.04 156.19 L569.70 155.50 L570.36 154.88 L571.02 154.35 L571.68 153.48 L572.34 152.90 L573.00 152.22 L573.66 151.63 L574.32 151.02 L574.98 150.88 L575.64 150.35 L576.30 149.80 L576.96 149.24 L577.62 149.60 L578.28 148.98 L578.94 148.78 L579.60 148.68 L580.26 148.68 L580.91 148.21 L581.57 147.74 L582.23 147.99 L582.89 147.95 L583.55 147.80 L584.21 148.08 L584.87 147.70 L585.53 147.79 L586.19 147.56 L586.85 147.80 L587.51 147.54 L588.17 147.80 L588.83 147.68 L589.49 147.73 L590.15 147.80 L590.81 147.55 L591.47 147.86 L592.13 148.11 L592.79 148.21 L593.45 148.75 L594.11 149.08 L594.76 149.37 L595.42 150.42 L596.08 151.06 L596.74 152.12 L597.40 153.09 L598.06 153.45 L598.72 154.20 L599.38 155.00 L600.04 155.64 L600.70 156.07 L601.36 157.13 L602.02 157.71 L602.68 158.37 L603.34 159.05 L604.00 159.77 L604.66 160.16 L605.32 160.99 L605.98 161.51 L606.64 162.16 L607.30 162.75 L607.95 163.79 L608.61 163.86 L609.27 164.84 L609.93 165.77 L610.59 166.24 L611.25 166.83 L611.91 167.69 L612.57 167.90 L613.23 168.47 L613.89 169.02 L614.55 169.19 L615.21 169.49 L615.87 169.82 L616.53 170.17 L617.19 170.00 L617.85 170.37 L618.51 170.34 L619.17 170.34 L619.83 170.19 L620.49 170.69 L621.14 170.44 L621.80 170.31 L622.46 170.06 L623.12 170.20 L623.78 169.50 L624.44 169.08 L625.10 168.69 L625.76 168.33 L626.42 167.88 L627.08 166.98 L627.74 166.87 L628.40 166.35 L629.06 165.96 L629.72 165.13 L630.38 164.84 L631.04 164.32 L631.70 163.29 L632.36 162.78 L633.02 162.47 L633.67 162.06 L634.33 161.48 L634.99 161.34 L635.65 160.60 L636.31 160.77 L636.97 160.46 L637.63 160.36 L638.29 160.12 L638.95 160.00 L639.61 159.69 L640.27 159.91 L640.93 159.26 L641.59 159.66 L642.25 159.57 L642.91 160.15 L643.57 159.84 L644.23 160.33 L644.89 160.66 L645.55 161.32 L646.21 161.84 L646.87 162.39 L647.52 163.36 L648.18 164.48 L648.84 165.34 L649.50 166.04 L650.16 166.89 L650.82 167.81 L651.48 168.88 L652.14 169.68 L652.80 170.42 L653.46 171.10 L654.12 171.92 L654.78 172.77 L655.44 173.39 L656.10 173.76 L656.76 174.60 L657.42 174.99 L658.08 175.82 L658.74 176.29 L659.40 176.78 L660.06 177.44 L660.71 177.66 L661.37 178.00 L662.03 178.41 L662.69 178.28 L663.35 178.67 L664.01 178.89 L664.67 179.29 L665.33 179.30 L665.99 179.21 L666.65 179.37 L667.31 179.53 L667.97 179.50 L668.63 179.49 L669.29 179.27 L669.95 179.47 L670.61 179.12 L671.27 179.15 L671.93 178.94 L672.59 178.80 L673.25 178.87 L673.90 178.28 L674.56 177.96 L675.22 177.24 L675.88 177.08 L676.54 176.78 L677.20 176.08 L677.86 175.61 L678.52 174.58 L679.18 173.86 L679.84 172.77 L680.50 171.81 L681.16 170.42 L681.82 169.43 L682.48 167.99 L683.14 166.67 L683.80 165.66 L684.46 163.78 L685.12 162.32 L685.78 161.20 L686.43 159.42 L687.09 158.01 L687.75 156.59 L688.41 155.19 L689.07 154.16 L689.73 152.46 L690.39 151.35 L691.05 149.84 L691.71 148.52 L692.37 147.51 L693.03 146.62 L693.69 146.20 L694.35 144.97 L695.01 144.54 L695.67 143.66 L696.33 143.56 L696.99 143.02 L697.65 142.79 L698.31 142.43 L698.97 142.12 L699.62 142.03 L700.28 141.91 L700.94 142.06 L701.60 141.89 L702.26 142.05 L702.92 142.08 L703.58 142.76 L704.24 143.00 L704.90 143.34 L705.56 144.22 L706.22 144.75 L706.88 145.21 L707.54 145.88 L708.20 146.38 L708.86 147.00 L709.52 148.26 L710.18 148.91 L710.84 150.25 L711.50 151.10 L712.16 152.31 L712.82 153.34 L713.47 154.73 L714.13 156.11 L714.79 157.37 L715.45 158.89 L716.11 160.37 L716.77 161.73 L717.43 163.02 L718.09 165.01 L718.75 166.44 L719.41 168.08 L720.07 169.76 L720.73 171.67 L721.39 174.12 L722.05 176.12 L722.71 177.94 L723.37 179.90 L724.03 180.99 L724.69 183.18 L725.35 184.55 L726.00 186.24 L726.66 188.30 L727.32 190.04 L727.98 191.41 L728.64 193.00 L729.30 194.78 L729.96 196.83 L730.62 198.78 L731.28 200.61 L731.94 201.76 L732.60 202.67 L733.26 203.59 L733.92 204.53 L734.58 205.21 L735.24 205.19 L735.90 205.87 L736.56 205.90 L737.22 206.24 L737.88 205.76 L738.54 205.97 L739.20 205.62 L739.85 205.00 L740.51 204.25 L741.17 203.10 L741.83 202.03 L742.49 200.68 L743.15 199.69 L743.81 198.37 L744.47 197.44 L745.13 196.30 L745.79 195.07 L746.45 194.31 L747.11 192.78 L747.77 191.87 L748.43 191.21 L749.09 189.86 L749.75 189.02 L750.41 187.50 L751.07 187.27 L751.73 186.03 L752.38 185.25 L753.04 184.79 L753.70 184.02 L754.36 183.12 L755.02 183.16 L755.68 182.33 L756.34 182.04 L757.00 181.65 L757.66 181.37 L758.32 181.11 L758.98 180.87 L759.64 180.62 L760.30 180.91 L760.96 180.34 L761.62 180.22 L762.28 179.87 L762.94 180.15 L763.60 179.84 L764.26 179.68 L764.92 179.50 L765.58 179.69 L766.23 179.24 L766.89 179.41 L767.55 179.49 L768.21 179.64 L768.87 179.66 L769.53 179.45 L770.19 179.89 L770.85 179.82 L771.51 179.93 L772.17 180.19 L772.83 180.29 L773.49 180.47 L774.15 180.71 L774.81 181.14 L775.47 181.33 L776.13 181.67 L776.79 181.87 L777.45 182.53 L778.11 182.74 L778.76 182.99 L779.42 183.73 L780.08 183.76 L780.74 184.38 L781.40 185.15 L782.06 185.53 L782.72 186.16 L783.38 186.88 L784.04 187.72 L784.70 188.74 L785.36 189.84 L786.02 190.82 L786.68 192.20 L787.34 193.32 L788.00 194.96 L788.66 196.44 L789.32 197.54 L789.98 198.79 L790.64 199.40 L791.30 200.23 L791.96 200.99 L792.61 201.25 L793.27 202.26 L793.93 202.40 L794.59 203.25 L795.25 203.73 L795.91 204.78 L796.57 205.46 L797.23 206.60 L797.89 206.92 L798.55 208.18 L799.21 209.03 L799.87 209.97 L800.53 211.03 L801.19 212.04 L801.85 212.98 L802.51 214.71 L803.17 216.36 L803.83 219.18 L804.49 222.91 L805.14 226.73 L805.80 231.15 L806.46 236.24 L807.12 241.06 L807.78 245.75 L808.44 251.19 L809.10 256.60 L809.76 262.42 L810.42 267.34 L811.08 272.39 L811.74 277.76 L812.40 282.70 L813.06 289.01 L813.72 294.70 L814.38 300.68 L815.04 306.89 L815.70 312.25 L816.36 317.66 L817.02 323.29 L817.68 328.51 L818.34 332.68 L818.99 336.66 L819.65 340.24 L820.31 344.32 L820.97 348.73 L821.63 351.55 L822.29 353.21 L822.95 354.79 L823.61 356.24 L824.27 357.01 L824.93 358.39 L825.59 359.47 L826.25 359.91 L826.91 360.67 L827.57 361.38 L828.23 361.90 L828.89 362.16 L829.55 362.88 L830.21 363.18 L830.87 363.57 L831.52 363.81 L832.18 363.88 L832.84 364.25 L833.50 364.48 L834.16 365.34 L834.82 365.20 L835.48 365.79 L836.14 366.28 L836.80 366.40 L837.46 366.84 L838.12 367.27 L838.78 367.87 L839.44 367.82 L840.10 368.50 L840.76 369.02 L841.42 369.52 L842.08 369.89 L842.74 370.81 L843.40 371.42 L844.06 371.94 L844.72 372.76 L845.37 374.16 L846.03 374.70 L846.69 375.59 L847.35 377.03 L848.01 377.98 L848.67 379.49 L849.33 381.07 L849.99 382.44 L850.65 384.03 L851.31 386.24 L851.97 387.29 L852.63 388.86 L853.29 390.60 L853.95 392.24 L854.61 393.79 L855.27 395.37 L855.93 397.51 L856.59 399.08 L857.25 401.05 L857.90 403.13 L858.56 404.85 L859.22 406.24 L859.88 407.53 L860.54 408.35 L861.20 409.06 L861.86 409.27 L862.52 409.53 L863.18 409.85 L863.84 409.83 L864.50 409.34 L865.16 408.84 L865.82 408.32 L866.48 407.71 L867.14 406.49 L867.80 405.12 L868.46 403.38 L869.12 401.14 L869.78 398.79 L870.44 396.21 L871.10 394.18 L871.75 392.19 L872.41 390.27 L873.07 388.61 L873.73 386.85 L874.39 384.67 L875.05 383.06 L875.71 381.10 L876.37 379.13 L877.03 377.24 L877.69 375.74 L878.35 374.51 L879.01 372.87 L879.67 371.92 L880.33 370.56 L880.99 369.71 L881.65 368.31 L882.31 368.18 L882.97 367.49 L883.63 366.65 L884.28 366.60 L884.94 365.92 L885.60 365.43 L886.26 365.52 L886.92 365.22 L887.58 364.92 L888.24 364.69 L888.90 364.56 L889.56 363.95 L890.22 364.09 L890.88 364.26 L891.54 364.03 L892.20 363.88 L892.86 363.74 L893.52 363.67 L894.18 363.57 L894.84 363.71 L895.50 363.31 L896.16 364.03 L896.82 363.91 L897.48 363.44 L898.13 363.85 L898.79 363.71 L899.45 363.36 L900.11 363.12 L900.77 362.65 L901.43 362.01 L902.09 360.87 L902.75 359.85 L903.41 358.84 L904.07 357.56 L904.73 355.18 L905.39 353.33 L906.05 351.04 L906.71 348.45 L907.37 345.01 L908.03 341.58 L908.69 334.11 L909.35 320.69 L910.01 315.30 L910.66 310.51 L911.32 306.07 L911.98 301.51 L912.64 296.67 L913.30 291.53 L913.96 286.56 L914.62 281.44 L915.28 276.08 L915.94 270.88 L916.60 265.46 L917.26 259.86 L917.92 254.65 L918.58 248.65 L919.24 243.48 L919.90 239.18 L920.56 235.10 L921.22 231.40 L921.88 228.64 L922.54 225.88 L923.20 223.53 L923.86 220.92 L924.51 219.08 L925.17 217.21 L925.83 215.69 L926.49 213.88 L927.15 212.42 L927.81 210.92 L928.47 209.92 L929.13 208.93 L929.79 207.53 L930.45 206.68 L931.11 206.23 L931.77 205.10 L932.43 204.34 L933.09 203.98 L933.75 203.81 L934.41 203.24 L935.07 202.63 L935.73 202.24 L936.39 202.12 L937.04 201.16 L937.70 201.11 L938.36 200.19 L939.02 199.66 L939.68 198.65 L940.34 197.74 L941.00 197.35 L941.66 195.86 L942.32 194.61 L942.98 193.74 L943.64 192.35 L944.30 191.11 L944.96 189.94 L945.62 188.80 L946.28 187.94 L946.94 186.32 L947.60 185.55 L948.26 184.27 L948.92 183.71 L949.58 182.80 L950.24 182.31 L950.89 181.65 L951.55 181.44 L952.21 181.09 L952.87 180.87 L953.53 180.80 L954.19 180.55 L954.85 180.50 L955.51 180.41 L956.17 180.65 L956.83 180.70 L957.49 180.77 L958.15 180.79 L958.81 181.20 L959.47 181.57 L960.13 181.92 L960.79 182.00 L961.45 182.58 L962.11 182.64 L962.77 183.20 L963.42 183.57 L964.08 184.28 L964.74 184.60 L965.40 185.18 L966.06 186.03 L966.72 186.60 L967.38 186.72 L968.04 187.77 L968.70 188.34 L969.36 188.99 L970.02 189.41 L970.68 190.38 L971.34 190.96 L972.00 191.35 L972.66 191.97 L973.32 192.96 L973.98 194.05 L974.64 195.42 L975.30 195.56 L975.96 196.80 L976.62 197.67 L977.27 198.57 L977.93 199.52 L978.59 200.41 L979.25 201.02 L979.91 202.05 L980.57 202.62 L981.23 203.39 L981.89 204.08 L982.55 204.36 L983.21 205.41 L983.87 205.56 L984.53 206.26 L985.19 206.67 L985.85 207.02 L986.51 207.57 L987.17 207.68 L987.83 208.29 L988.49 208.32 L989.15 208.26 L989.80 208.32 L990.46 208.15 L991.12 207.75 L991.78 207.05 L992.44 206.94 L993.10 206.31 L993.76 205.86 L994.42 205.01 L995.08 203.70 L995.74 202.19 L996.40 200.51 L997.06 198.54 L997.72 196.68 L998.38 194.81 L999.04 193.17 L999.70 191.54 L1000.36 190.30 L1001.02 188.76 L1001.68 186.33 L1002.34 185.07 L1003.00 182.88 L1003.65 181.07 L1004.31 179.30 L1004.97 177.26 L1005.63 175.81 L1006.29 173.29 L1006.95 171.10 L1007.61 168.93 L1008.27 167.19 L1008.93 164.93 L1009.59 163.06 L1010.25 161.09 L1010.91 159.81 L1011.57 158.05 L1012.23 156.56 L1012.89 154.73 L1013.55 153.40 L1014.21 151.98 L1014.87 150.63 L1015.53 149.77 L1016.18 148.35 L1016.84 147.63 L1017.50 146.66 L1018.16 146.11 L1018.82 145.10 L1019.48 144.62 L1020.14 143.85 L1020.80 143.30 L1021.46 142.72 L1022.12 142.59 L1022.78 141.59 L1023.44 141.53 L1024.10 140.88 L1024.76 141.17 L1025.42 140.55 L1026.08 140.65 L1026.74 140.32 L1027.40 140.98 L1028.06 140.98 L1028.72 141.26 L1029.38 141.89 L1030.03 142.75 L1030.69 143.04 L1031.35 143.95 L1032.01 145.03 L1032.67 146.06 L1033.33 146.86 L1033.99 147.98 L1034.65 149.69 L1035.31 150.93 L1035.97 152.31 L1036.63 153.69 L1037.29 154.92 L1037.95 156.47 L1038.61 157.76 L1039.27 159.36 L1039.93 160.99 L1040.59 162.49 L1041.25 164.30 L1041.91 166.43 L1042.57 167.91 L1043.22 169.71 L1043.88 171.03 L1044.54 171.98 L1045.20 173.38 L1045.86 173.89 L1046.52 175.13 L1047.18 175.78 L1047.84 176.30 L1048.50 177.16 L1049.16 177.50 L1049.82 178.36 L1050.48 178.14 L1051.14 179.07 L1051.80 179.33 L1052.46 179.55 L1053.12 179.53 L1053.78 179.77 L1054.44 179.82 L1055.10 180.40 L1055.76 180.44 L1056.41 180.74 L1057.07 180.69 L1057.73 180.79 L1058.39 180.43 L1059.05 180.68 L1059.71 180.68 L1060.37 180.67 L1061.03 179.90 L1061.69 180.34 L1062.35 179.57 L1063.01 179.60 L1063.67 179.19 L1064.33 179.02 L1064.99 178.16 L1065.65 177.39 L1066.31 176.51 L1066.97 175.73 L1067.63 174.89 L1068.29 174.34 L1068.95 173.53 L1069.60 173.21 L1070.26 172.15 L1070.92 171.78 L1071.58 170.93 L1072.24 170.14 L1072.90 169.64 L1073.56 168.65 L1074.22 168.40 L1074.88 167.73 L1075.54 167.05 L1076.20 166.60 L1076.86 166.07 L1077.52 165.58 L1078.18 164.88 L1078.84 164.27 L1079.50 164.00 L1080.16 163.18 L1080.82 163.43 L1081.48 162.82 L1082.13 162.72 L1082.79 162.75 L1083.45 162.25 L1084.11 162.22 L1084.77 162.27 L1085.43 162.08 L1086.09 162.43 L1086.75 162.00 L1087.41 162.32 L1088.07 162.60 L1088.73 162.77 L1089.39 162.89 L1090.05 163.53 L1090.71 163.86 L1091.37 164.01 L1092.03 164.58 L1092.69 164.84 L1093.35 166.05 L1094.01 166.76 L1094.67 167.51 L1095.33 168.01 L1095.98 168.41 L1096.64 168.79 L1097.30 168.97 L1097.96 169.31 L1098.62 169.76 L1099.28 170.45 L1099.94 170.66 L1100.60 170.79 L1101.26 171.01 L1101.92 171.46 L1102.58 171.50 L1103.24 171.94 L1103.90 171.72 L1104.56 171.67 L1105.22 171.49 L1105.88 171.68 L1106.54 171.76 L1107.20 171.27 L1107.86 171.41 L1108.51 171.12 L1109.17 170.48 L1109.83 170.39 L1110.49 169.70 L1111.15 169.53 L1111.81 168.99 L1112.47 168.73 L1113.13 167.98 L1113.79 167.66 L1114.45 167.29 L1115.11 166.62 L1115.77 166.10 L1116.43 165.49 L1117.09 165.23 L1117.75 164.52 L1118.41 164.02 L1119.07 163.44 L1119.73 162.77 L1120.39 162.14 L1121.05 161.35 L1121.70 160.81 L1122.36 160.25 L1123.02 159.26 L1123.68 158.61 L1124.34 158.21 L1125.00 157.70 L1125.66 156.81 L1126.32 156.08 L1126.98 155.70 L1127.64 155.02 L1128.30 154.52 L1128.96 153.85 L1129.62 153.20 L1130.28 152.76 L1130.94 152.35 L1131.60 151.80 L1132.26 150.87 L1132.92 151.02 L1133.58 150.27 L1134.24 149.82 L1134.89 149.51 L1135.55 149.52 L1136.21 148.84 L1136.87 148.81 L1137.53 148.86 L1138.19 148.80 L1138.85 148.82 L1139.51 148.46 L1140.17 148.25 L1140.83 148.21 L1141.49 148.46 L1142.15 148.39 L1142.81 148.50 L1143.47 148.47 L1144.13 148.63 L1144.79 148.91 L1145.45 149.35 L1146.11 149.70 L1146.77 150.27 L1147.43 150.52 L1148.09 150.84 L1148.74 151.45 L1149.40 151.43 L1150.06 151.99 L1150.72 152.69 L1151.38 153.25 L1152.04 153.64 L1152.70 153.93 L1153.36 154.53 L1154.02 155.41 L1154.68 156.05 L1155.34 156.24 L1156.00 157.14 L1156.66 157.85 L1157.32 158.72 L1157.98 159.42 L1158.64 159.86 L1159.30 160.46 L1159.96 161.28 L1160.62 161.87 L1161.28 162.50 L1161.93 163.32 L1162.59 163.80 L1163.25 163.88 L1163.91 164.83 L1164.57 165.41 L1165.23 165.57 L1165.89 166.50 L1166.55 166.73 L1167.21 167.08 L1167.87 167.36 L1168.53 167.98 L1169.19 168.32 L1169.85 168.32 L1170.51 168.35 L1171.17 169.24 L1171.83 169.28 L1172.49 169.19 L1173.15 169.94 L1173.81 169.50 L1174.47 169.96 L1175.12 169.92 L1175.78 169.96 L1176.44 170.22 L1177.10 170.52 L1177.76 169.86 L1178.42 170.04 L1179.08 169.46 L1179.74 169.18 L1180.40 169.06 L1181.06 168.43 L1181.72 168.69 L1182.38 167.95 L1183.04 167.52 L1183.70 167.42 L1184.36 167.07 L1185.02 166.65 L1185.68 166.50 L1186.34 166.34 L1187.00 165.66 L1187.65 165.19 L1188.31 165.08 L1188.97 164.68 L1189.63 163.95 L1190.29 163.61 L1190.95 163.03 L1191.61 162.46 L1192.27 162.35 L1192.93 161.80 L1193.59 161.45 L1194.25 160.99 L1194.91 159.71 L1195.57 159.43 L1196.23 159.12 L1196.89 158.96 L1197.55 158.18 L1198.21 157.86 L1198.87 157.11 L1199.53 157.03 L1200.19 156.60 L1200.85 156.14 L1201.50 155.64 L1202.16 154.98 L1202.82 154.95 L1203.48 154.11 L1204.14 153.70 L1204.80 153.33 L1205.46 153.14 L1206.12 152.99 L1206.78 152.46 L1207.44 152.23 L1208.10 151.83 L1208.76 151.68 L1209.42 151.33 L1210.08 150.85 L1210.74 151.28 L1211.40 150.74 L1212.06 150.54 L1212.72 150.28 L1213.38 149.88 L1214.03 149.78 L1214.69 149.75 L1215.35 149.67 L1216.01 149.37 L1216.67 149.03 L1217.33 148.94 L1217.99 148.66 L1218.65 148.63 L1219.31 148.54 L1219.97 148.34 L1220.63 148.38 L1221.29 148.57 L1221.95 148.00 L1222.61 147.75 L1223.27 147.79 L1223.93 148.01 L1224.59 147.56 L1225.25 147.85 L1225.91 147.80 L1226.57 147.50 L1227.22 147.25 L1227.88 147.54 L1228.54 147.26 L1229.20 147.40 L1229.86 147.68 L1230.52 147.38 L1231.18 146.99 L1231.84 147.27 L1232.50 147.07 L1233.16 147.54 L1233.82 147.27 L1234.48 147.09 L1235.14 147.20 L1235.80 147.13 L1236.46 146.99 L1237.12 146.93 L1237.78 147.14 L1238.44 147.02 L1239.10 147.10 L1239.76 147.25 L1240.41 147.34 L1241.07 147.01 L1241.73 147.18 L1242.39 146.94 L1243.05 146.75 L1243.71 147.26 L1244.37 147.31 L1245.03 146.91 L1245.69 146.75 L1246.35 146.60 L1247.01 146.73 L1247.67 146.84 L1248.33 146.65 L1248.99 146.23 L1249.65 146.38 L1250.31 145.96 L1250.97 146.04 L1251.63 146.05 L1252.29 145.97 L1252.95 145.49 L1253.61 145.62 L1254.26 145.67 L1254.92 145.71 L1255.58 145.49 L1256.24 145.61 L1256.90 145.70 L1257.56 145.17 L1258.22 145.46 L1258.88 145.80 L1259.54 145.44 L1260.20 145.38 L1260.86 145.63 L1261.52 145.64 L1262.18 145.55 L1262.84 145.19 L1263.50 145.66 L1264.16 145.80 L1264.82 145.95 L1265.48 146.23 L1266.14 145.80 L1266.80 146.01 L1267.45 146.35 L1268.11 146.62 L1268.77 146.49 L1269.43 146.59 L1270.09 146.96 L1270.75 147.07 L1271.41 147.35 L1272.07 147.33 L1272.73 147.58 L1273.39 147.42 L1274.05 147.94 L1274.71 148.11 L1275.37 148.16 L1276.03 148.19 L1276.69 148.86 L1277.35 148.93 L1278.01 148.95 L1278.67 149.33 L1279.33 149.68 L1279.98 149.53 L1280.64 150.04 L1281.30 150.13 L1281.96 150.17 L1282.62 150.38 L1283.28 150.88 L1283.94 151.06 L1284.60 151.23 L1285.26 151.20 L1285.92 151.53 L1286.58 151.87 L1287.24 151.90 L1287.90 152.17 L1288.56 152.58 L1289.22 153.15 L1289.88 153.52 L1290.54 153.81 L1291.20 154.35 L1291.86 154.95 L1292.52 154.94 L1293.17 155.73 L1293.83 155.95 L1294.49 156.73 L1295.15 156.60 L1295.81 157.34 L1296.47 157.35 L1297.13 157.99 L1297.79 158.30 L1298.45 158.57 L1299.11 159.05 L1299.77 159.00 L1300.43 159.44 L1301.09 159.84 L1301.75 159.90 L1302.41 160.27 L1303.07 160.36 L1303.73 160.57 L1304.39 160.54 L1305.05 160.58 L1305.71 160.81 L1306.37 161.18 L1307.02 161.10 L1307.68 160.99 L1308.34 160.97 L1309.00 161.26 L1309.66 161.18 L1310.32 160.99 L1310.98 161.04 L1311.64 160.85 L1312.30 160.96 L1312.96 160.43 L1313.62 160.47 L1314.28 160.32 L1314.94 160.09 L1315.60 159.63 L1316.26 159.39 L1316.92 159.36 L1317.58 159.23 L1318.24 158.51 L1318.90 158.32 L1319.56 158.30 L1320.21 157.78 L1320.87 157.64 L1321.53 157.41 L1322.19 156.91 L1322.85 156.96 L1323.51 156.33 L1324.17 155.93 L1324.83 155.86 L1325.49 155.59 L1326.15 154.98 L1326.81 154.86 L1327.47 154.55 L1328.13 154.44 L1328.79 154.04 L1329.45 154.14 L1330.11 154.16 L1330.77 153.73 L1331.43 153.65 L1332.09 153.57 L1332.74 153.27 L1333.40 153.39 L1334.06 153.23 L1334.72 153.09 L1335.38 153.38 L1336.04 152.96 L1336.70 152.89 L1337.36 152.43 L1338.02 152.89 L1338.68 152.70 L1339.34 152.81 L1340.00 152.44 L1340.66 152.47 L1341.32 152.41 L1341.98 152.64 L1342.64 152.42 L1343.30 151.91 L1343.96 152.54 L1344.62 152.32 L1345.28 151.99 L1345.93 151.80 L1346.59 151.82 L1347.25 151.57 L1347.91 151.74 L1348.57 151.90 L1349.23 151.66 L1349.89 151.47 L1350.55 151.63 L1351.21 151.56 L1351.87 151.45 L1352.53 151.46 L1353.19 151.53 L1353.85 151.30 L1354.51 151.35 L1355.17 151.24 L1355.83 150.98 L1356.49 151.07 L1357.15 150.88 L1357.81 150.76 L1358.47 150.83 L1359.12 150.80 L1359.78 150.78 L1360.44 150.61 L1361.10 150.27 L1361.76 150.47 L1362.42 150.46 L1363.08 150.47 L1363.74 150.35 L1364.40 150.21 L1365.06 150.16 L1365.72 150.31 L1366.38 150.21 L1367.04 150.01 L1367.70 150.01 L1368.36 149.93 L1369.02 149.80 L1369.68 149.82 L1370.34 149.73 L1371.00 149.87 L1371.66 149.57 L1372.32 149.62 L1372.97 149.76 L1373.63 149.71 L1374.29 149.45 L1374.95 149.44 L1375.61 149.51 L1376.27 149.61 L1376.93 149.66 L1377.59 149.50 L1378.25 149.77 L1378.91 149.61 L1379.57 149.20 L1380.23 149.40 L1380.89 149.58 L1381.55 149.59 L1382.21 149.34 L1382.87 149.35 L1383.53 149.36 L1384.19 149.41 L1384.85 149.20 L1385.51 149.43 L1386.16 149.58 L1386.82 149.44 L1387.48 149.55 L1388.14 149.28 L1388.80 149.54 L1389.46 149.35 L1390.12 149.49 L1390.78 149.50 L1391.44 149.20 L1392.10 149.20 L1392.76 149.52 L1393.42 149.43 L1394.08 149.35 L1394.74 149.10 L1395.40 149.29 L1396.06 149.15 L1396.72 148.78 L1397.38 148.54 L1398.04 148.68 L1398.69 148.35 L1399.35 147.96 L1400.01 147.81 L1400.67 147.52 L1401.33 147.55 L1401.99 147.36 L1402.65 147.42 L1403.31 147.27 L1403.97 147.24 L1404.63 147.43 L1405.29 147.23 L1405.95 147.12 L1406.61 147.36 L1407.27 147.33 L1407.93 147.71 L1408.59 148.03 L1409.25 147.79 L1409.91 148.05 L1410.57 148.09 L1411.23 148.85 L1411.88 149.19 L1412.54 149.39 L1413.20 149.93 L1413.86 150.36 L1414.52 150.52 L1415.18 151.07 L1415.84 151.53 L1416.50 152.18 L1417.16 152.17 L1417.82 152.60 L1418.48 153.17 L1419.14 153.32 L1419.80 153.47 L1420.46 153.88 L1421.12 154.41 L1421.78 154.81 L1422.44 154.74 L1423.10 155.11 L1423.76 154.80 L1424.42 155.11 L1425.08 155.23 L1425.73 155.12 L1426.39 155.18 L1427.05 155.63 L1427.71 154.91 L1428.37 154.85 L1429.03 155.07 L1429.69 155.14 L1430.35 154.66 L1431.01 154.69 L1431.67 154.69 L1432.33 154.66 L1432.99 154.31 L1433.65 154.60 L1434.31 154.47 L1434.97 154.28 L1435.63 153.94 L1436.29 154.37 L1436.95 154.01 L1437.61 153.68 L1438.27 153.90 L1438.92 153.85 L1439.58 153.38 L1440.24 153.54 L1440.90 153.25 L1441.56 153.21 L1442.22 153.17 L1442.88 152.82 L1443.54 153.00 L1444.20 153.05 L1444.86 152.72 L1445.52 152.78 L1446.18 152.62 L1446.84 152.60 L1447.50 152.78 L1448.16 152.45 L1448.82 152.50 L1449.48 152.92 L1450.14 152.48 L1450.80 152.48 L1451.45 152.47 L1452.11 152.41 L1452.77 152.41 L1453.43 152.64 L1454.09 152.17 L1454.75 152.01 L1455.41 152.38 L1456.07 152.21 L1456.73 152.20 L1457.39 152.22 L1458.05 152.16 L1458.71 152.01 L1459.37 152.11 L1460.03 152.06 L1460.69 151.89 L1461.35 152.04 L1462.01 152.23 L1462.67 152.01 L1463.33 152.16 L1463.99 151.79 L1464.64 151.84 L1465.30 151.67 L1465.96 151.47 L1466.62 151.36 L1467.28 151.15 L1467.94 151.45 L1468.60 151.20 L1469.26 151.21 L1469.92 150.85 L1470.58 150.72 L1471.24 150.71 L1471.90 150.94 L1472.56 150.95 L1473.22 150.94 L1473.88 150.50 L1474.54 150.36 L1475.20 150.01 L1475.86 149.84 L1476.52 149.94 L1477.18 149.87 L1477.84 149.72 L1478.49 149.41 L1479.15 149.46 L1479.81 149.43 L1480.47 149.36 L1481.13 149.55 L1481.79 149.01 L1482.45 149.26 L1483.11 149.18 L1483.77 149.23 L1484.43 149.50 L1485.09 149.35 L1485.75 150.03 L1486.41 149.99 L1487.07 150.34 L1487.73 150.34 L1488.39 150.75 L1489.05 150.46 L1489.71 150.58 L1490.37 151.18 L1491.03 150.99 L1491.68 151.15 L1492.34 150.96 L1493.00 150.95 L1493.66 151.00 L1494.32 151.24 L1494.98 151.12 L1495.64 151.01 L1496.30 150.62 L1496.96 151.01 L1497.62 151.01 L1498.28 151.06 L1498.94 150.64 L1499.60 150.22 L1500.26 150.23 L1500.92 150.38 L1501.58 150.07 L1502.24 149.89 L1502.90 149.60 L1503.56 149.28 L1504.21 149.09 L1504.87 148.93 L1505.53 148.86 L1506.19 148.36 L1506.85 148.66 L1507.51 148.47 L1508.17 147.89 L1508.83 147.63 L1509.49 147.92 L1510.15 147.61 L1510.81 147.24 L1511.47 146.99 L1512.13 147.29 L1512.79 147.07 L1513.45 146.93 L1514.11 147.12 L1514.77 146.70 L1515.43 146.78 L1516.09 146.77 L1516.75 147.01 L1517.40 146.68 L1518.06 147.09 L1518.72 147.05 L1519.38 147.23 L1520.04 147.23 L1520.70 147.07 L1521.36 147.69 L1522.02 147.91 L1522.68 147.98 L1523.34 147.78 L1524.00 148.03" fill="none" stroke="#808080" stroke-width="6.94" stroke-dasharray="25.7 11.1" stroke-linejoin="round"/>
<path d="M205.0 192.0 L205.7 194.8 L206.3 197.9 L207.0 200.3 L207.6 203.4 L208.3 204.7 L209.0 203.2 L209.6 201.8 L210.3 202.4 L210.9 201.3 L211.6 200.8 L212.3 200.7 L212.9 197.1 L213.6 196.8 L214.2 196.8 L214.9 193.5 L215.6 193.1 L216.2 193.8 L216.9 194.3 L217.5 192.7 L218.2 193.9 L218.8 191.6 L219.5 191.5 L220.2 191.8 L220.8 191.0 L221.5 191.0 L222.1 188.7 L222.8 189.2 L223.5 189.7 L224.1 191.5 L224.8 193.2 L225.4 191.0 L226.1 193.9 L226.8 192.8 L227.4 193.4 L228.1 195.1 L228.7 198.0 L229.4 201.0 L230.1 206.2 L230.7 206.0 L231.4 211.0 L232.0 214.4 L232.7 213.2 L233.4 214.5 L234.0 215.1 L234.7 215.1 L235.3 216.7 L236.0 218.7 L236.7 223.8 L237.3 219.8 L238.0 223.3 L238.6 221.5 L239.3 222.3 L240.0 223.7 L240.6 221.1 L241.3 222.0 L241.9 220.9 L242.6 217.1 L243.3 219.2 L243.9 218.2 L244.6 218.3 L245.2 219.1 L245.9 217.6 L246.5 217.9 L247.2 218.1 L247.9 216.2 L248.5 219.0 L249.2 214.2 L249.8 213.4 L250.5 214.2 L251.2 211.1 L251.8 210.1 L252.5 206.1 L253.1 209.0 L253.8 210.3 L254.5 212.8 L255.1 211.6 L255.8 215.8 L256.4 215.9 L257.1 216.7 L257.8 217.9 L258.4 220.1 L259.1 218.9 L259.7 218.9 L260.4 224.3 L261.1 224.9 L261.7 225.5 L262.4 228.2 L263.0 225.8 L263.7 226.2 L264.4 225.3 L265.0 225.8 L265.7 226.5 L266.3 225.7 L267.0 226.0 L267.7 226.9 L268.3 229.9 L269.0 230.2 L269.6 232.0 L270.3 233.2 L270.9 231.0 L271.6 232.7 L272.3 235.4 L272.9 236.9 L273.6 237.3 L274.2 239.4 L274.9 241.9 L275.6 240.3 L276.2 240.8 L276.9 243.6 L277.5 242.5 L278.2 244.5 L278.9 243.2 L279.5 247.4 L280.2 248.3 L280.8 246.0 L281.5 250.2 L282.2 249.6 L282.8 251.1 L283.5 250.1 L284.1 252.5 L284.8 256.3 L285.5 253.6 L286.1 250.5 L286.8 253.0 L287.4 251.8 L288.1 252.8 L288.8 251.7 L289.4 250.5 L290.1 250.3 L290.7 253.1 L291.4 249.1 L292.1 252.6 L292.7 246.7 L293.4 243.2 L294.0 242.5 L294.7 239.4 L295.4 235.3 L296.0 236.4 L296.7 231.4 L297.3 232.0 L298.0 235.7 L298.6 234.6 L299.3 232.9 L300.0 237.2 L300.6 240.0 L301.3 240.2 L301.9 238.8 L302.6 243.4 L303.3 246.3 L303.9 247.5 L304.6 250.2 L305.2 249.1 L305.9 248.9 L306.6 249.3 L307.2 252.5 L307.9 252.0 L308.5 255.9 L309.2 251.9 L309.9 258.2 L310.5 256.6 L311.2 257.8 L311.8 257.3 L312.5 254.3 L313.2 254.5 L313.8 254.3 L314.5 253.3 L315.1 249.1 L315.8 248.2 L316.5 244.7 L317.1 248.9 L317.8 242.2 L318.4 241.5 L319.1 237.3 L319.8 238.5 L320.4 233.7 L321.1 235.0 L321.7 231.6 L322.4 227.9 L323.1 228.4 L323.7 225.1 L324.4 224.2 L325.0 224.0 L325.7 221.1 L326.3 221.1 L327.0 218.7 L327.7 220.1 L328.3 213.5 L329.0 218.6 L329.6 219.0 L330.3 219.7 L331.0 220.7 L331.6 221.5 L332.3 221.5 L332.9 221.3 L333.6 224.1 L334.3 227.0 L334.9 225.6 L335.6 230.5 L336.2 230.6 L336.9 233.1 L337.6 233.1 L338.2 232.6 L338.9 232.4 L339.5 230.8 L340.2 232.3 L340.9 232.3 L341.5 233.1 L342.2 231.1 L342.8 233.5 L343.5 231.6 L344.2 227.7 L344.8 228.2 L345.5 228.2 L346.1 229.1 L346.8 229.9 L347.5 228.4 L348.1 224.5 L348.8 225.5 L349.4 225.6 L350.1 230.1 L350.7 231.3 L351.4 232.9 L352.1 236.0 L352.7 235.5 L353.4 237.5 L354.0 240.9 L354.7 240.2 L355.4 239.2 L356.0 238.9 L356.7 241.5 L357.3 241.1 L358.0 243.5 L358.7 243.9 L359.3 243.6 L360.0 241.9 L360.6 242.0 L361.3 243.0 L362.0 247.4 L362.6 244.0 L363.3 245.8 L363.9 246.4 L364.6 243.6 L365.3 238.9 L365.9 236.2 L366.6 235.7 L367.2 231.4 L367.9 230.2 L368.6 229.3 L369.2 228.0 L369.9 227.0 L370.5 226.7 L371.2 227.3 L371.9 227.9 L372.5 227.1 L373.2 224.7 L373.8 224.9 L374.5 222.8 L375.2 223.1 L375.8 222.6 L376.5 221.5 L377.1 220.4 L377.8 221.4 L378.4 224.4 L379.1 224.4 L379.8 225.1 L380.4 225.4 L381.1 223.4 L381.7 220.3 L382.4 217.4 L383.1 219.8 L383.7 218.0 L384.4 216.3 L385.0 216.0 L385.7 218.5 L386.4 214.1 L387.0 218.5 L387.7 218.0 L388.3 219.4 L389.0 215.4 L389.7 213.8 L390.3 210.6 L391.0 209.4 L391.6 208.0 L392.3 207.7 L393.0 211.7 L393.6 212.4 L394.3 213.9 L394.9 217.7 L395.6 219.8 L396.3 221.9 L396.9 224.0 L397.6 225.2 L398.2 225.0 L398.9 227.4 L399.6 226.7 L400.2 230.6 L400.9 228.0 L401.5 231.3 L402.2 229.6 L402.9 233.7 L403.5 233.3 L404.2 234.8 L404.8 238.3 L405.5 240.3 L406.1 237.7 L406.8 243.5 L407.5 243.9 L408.1 243.7 L408.8 243.8 L409.4 246.2 L410.1 244.8 L410.8 246.8 L411.4 247.2 L412.1 247.0 L412.7 247.0 L413.4 245.5 L414.1 242.4 L414.7 243.0 L415.4 242.7 L416.0 240.3 L416.7 244.9 L417.4 244.3 L418.0 248.2 L418.7 249.9 L419.3 251.4 L420.0 251.2 L420.7 249.3 L421.3 249.6 L422.0 249.3 L422.6 253.8 L423.3 252.8 L424.0 251.2 L424.6 253.4 L425.3 253.6 L425.9 255.7 L426.6 258.1 L427.3 265.0 L427.9 265.3 L428.6 263.3 L429.2 260.4 L429.9 260.5 L430.5 257.3 L431.2 256.2 L431.9 256.5 L432.5 254.5 L433.2 254.6 L433.8 253.3 L434.5 253.4 L435.2 251.3 L435.8 251.0 L436.5 253.0 L437.1 250.3 L437.8 249.1 L438.5 244.8 L439.1 240.8 L439.8 241.2 L440.4 239.4 L441.1 237.2 L441.8 237.8 L442.4 233.7 L443.1 234.0 L443.7 232.8 L444.4 232.3 L445.1 227.9 L445.7 228.7 L446.4 226.1 L447.0 225.0 L447.7 222.4 L448.4 220.7 L449.0 222.7 L449.7 220.3 L450.3 220.6 L451.0 221.6 L451.7 221.2 L452.3 222.1 L453.0 220.2 L453.6 223.6 L454.3 224.9 L455.0 226.1 L455.6 225.9 L456.3 227.8 L456.9 224.0 L457.6 223.6 L458.2 219.5 L458.9 219.9 L459.6 218.4 L460.2 220.0 L460.9 218.6 L461.5 218.5 L462.2 220.4 L462.9 220.7 L463.5 221.4 L464.2 222.8 L464.8 220.5 L465.5 219.4 L466.2 218.3 L466.8 220.1 L467.5 220.3 L468.1 219.4 L468.8 216.9 L469.5 214.7 L470.1 214.3 L470.8 213.7 L471.4 211.3 L472.1 208.2 L472.8 207.4 L473.4 205.4 L474.1 206.3 L474.7 206.7 L475.4 205.7 L476.1 210.2 L476.7 212.1 L477.4 210.2 L478.0 211.9 L478.7 215.7 L479.4 212.4 L480.0 211.1 L480.7 214.6 L481.3 212.4 L482.0 209.8 L482.6 206.9 L483.3 209.8 L484.0 206.0 L484.6 208.1 L485.3 210.7 L485.9 212.1 L486.6 209.6 L487.3 209.6 L487.9 210.6 L488.6 207.9 L489.2 211.1 L489.9 210.2 L490.6 208.6 L491.2 210.0 L491.9 209.7 L492.5 208.6 L493.2 208.3 L493.9 209.6 L494.5 207.4 L495.2 209.5 L495.8 209.6 L496.5 213.2 L497.2 211.6 L497.8 214.1 L498.5 213.0 L499.1 212.4 L499.8 212.9 L500.5 210.2 L501.1 208.8 L501.8 207.1 L502.4 207.8 L503.1 206.0 L503.8 208.1 L504.4 210.0 L505.1 207.5 L505.7 207.6 L506.4 208.3 L507.1 208.4 L507.7 208.4 L508.4 206.4 L509.0 205.9 L509.7 206.2 L510.3 208.1 L511.0 209.0 L511.7 210.0 L512.3 210.4 L513.0 212.4 L513.6 210.7 L514.3 210.6 L515.0 209.5 L515.6 213.1 L516.3 216.2 L516.9 217.6 L517.6 215.2 L518.3 220.5 L518.9 222.6 L519.6 220.8 L520.2 218.3 L520.9 219.7 L521.6 220.8 L522.2 220.4 L522.9 218.6 L523.5 217.7 L524.2 219.9 L524.9 214.6 L525.5 216.9 L526.2 214.8 L526.8 214.3 L527.5 212.1 L528.2 214.3 L528.8 215.2 L529.5 212.0 L530.1 217.3 L530.8 213.6 L531.5 214.7 L532.1 217.6 L532.8 218.3 L533.4 219.3 L534.1 218.2 L534.8 219.0 L535.4 219.7 L536.1 219.4 L536.7 215.8 L537.4 219.8 L538.0 217.7 L538.7 216.4 L539.4 215.5 L540.0 216.7 L540.7 216.3 L541.3 216.7 L542.0 219.4 L542.7 218.9 L543.3 223.1 L544.0 223.7 L544.6 226.0 L545.3 230.8 L546.0 225.1 L546.6 225.2 L547.3 223.1 L547.9 224.4 L548.6 221.8 L549.3 221.6 L549.9 224.6 L550.6 222.8 L551.2 221.9 L551.9 221.4 L552.6 217.4 L553.2 216.4 L553.9 214.8 L554.5 214.0 L555.2 210.8 L555.9 211.7 L556.5 213.0 L557.2 210.5 L557.8 213.0 L558.5 209.6 L559.2 214.2 L559.8 210.7 L560.5 211.9 L561.1 211.9 L561.8 211.6 L562.4 210.7 L563.1 213.8 L563.8 217.3 L564.4 217.3 L565.1 215.7 L565.7 216.2 L566.4 216.3 L567.1 214.8 L567.7 219.5 L568.4 218.3 L569.0 218.2 L569.7 217.7 L570.4 218.8 L571.0 221.6 L571.7 220.9 L572.3 219.8 L573.0 222.0 L573.7 218.9 L574.3 222.1 L575.0 222.7 L575.6 224.3 L576.3 228.4 L577.0 229.8 L577.6 231.8 L578.3 230.1 L578.9 233.9 L579.6 231.7 L580.3 231.5 L580.9 232.9 L581.6 231.4 L582.2 231.8 L582.9 230.9 L583.6 232.7 L584.2 232.2 L584.9 233.2 L585.5 232.1 L586.2 231.5 L586.9 227.4 L587.5 226.5 L588.2 224.2 L588.8 223.8 L589.5 220.3 L590.1 224.0 L590.8 220.4 L591.5 221.5 L592.1 221.7 L592.8 220.0 L593.4 222.8 L594.1 220.7 L594.8 222.7 L595.4 221.8 L596.1 220.8 L596.7 221.6 L597.4 223.2 L598.1 222.6 L598.7 224.8 L599.4 224.9 L600.0 225.5 L600.7 222.8 L601.4 221.2 L602.0 221.7 L602.7 218.8 L603.3 214.0 L604.0 213.6 L604.7 213.6 L605.3 209.8 L606.0 208.9 L606.6 211.2 L607.3 207.6 L608.0 209.4 L608.6 204.7 L609.3 206.9 L609.9 202.1 L610.6 204.7 L611.3 205.8 L611.9 205.5 L612.6 210.0 L613.2 208.8 L613.9 210.0 L614.5 214.4 L615.2 214.7 L615.9 214.2 L616.5 210.4 L617.2 213.4 L617.8 213.5 L618.5 213.1 L619.2 213.6 L619.8 213.3 L620.5 214.4 L621.1 217.5 L621.8 218.5 L622.5 215.9 L623.1 215.1 L623.8 216.9 L624.4 218.3 L625.1 217.0 L625.8 215.8 L626.4 217.3 L627.1 217.7 L627.7 218.8 L628.4 217.6 L629.1 217.4 L629.7 219.5 L630.4 216.8 L631.0 220.2 L631.7 220.0 L632.4 221.8 L633.0 223.4 L633.7 222.6 L634.3 223.6 L635.0 224.6 L635.7 227.7 L636.3 227.1 L637.0 227.0 L637.6 227.5 L638.3 223.7 L639.0 227.7 L639.6 228.8 L640.3 229.4 L640.9 232.9 L641.6 233.7 L642.2 229.7 L642.9 229.4 L643.6 230.2 L644.2 229.4 L644.9 229.8 L645.5 230.0 L646.2 233.8 L646.9 231.8 L647.5 236.3 L648.2 237.8 L648.8 239.6 L649.5 243.4 L650.2 243.0 L650.8 245.1 L651.5 248.8 L652.1 251.8 L652.8 250.9 L653.5 254.3 L654.1 253.5 L654.8 255.3 L655.4 256.5 L656.1 256.6 L656.8 256.4 L657.4 257.8 L658.1 254.6 L658.7 258.6 L659.4 257.9 L660.1 257.5 L660.7 257.4 L661.4 256.6 L662.0 257.3 L662.7 259.4 L663.4 257.4 L664.0 257.3 L664.7 252.3 L665.3 254.6 L666.0 253.8 L666.6 252.3 L667.3 248.1 L668.0 246.8 L668.6 247.6 L669.3 243.7 L669.9 242.0 L670.6 241.3 L671.3 240.6 L671.9 241.0 L672.6 240.1 L673.2 235.2 L673.9 239.4 L674.6 235.5 L675.2 234.7 L675.9 236.4 L676.5 234.8 L677.2 231.0 L677.9 230.5 L678.5 230.4 L679.2 229.2 L679.8 228.2 L680.5 230.3 L681.2 229.3 L681.8 225.3 L682.5 229.0 L683.1 222.9 L683.8 222.8 L684.5 220.9 L685.1 220.6 L685.8 215.7 L686.4 216.1 L687.1 216.0 L687.8 214.1 L688.4 215.0 L689.1 219.7 L689.7 218.6 L690.4 220.0 L691.1 220.6 L691.7 220.1 L692.4 220.6 L693.0 221.5 L693.7 219.0 L694.3 216.4 L695.0 218.4 L695.7 215.2 L696.3 215.5 L697.0 211.9 L697.6 212.1 L698.3 211.0 L699.0 208.3 L699.6 210.6 L700.3 210.5 L700.9 214.8 L701.6 212.0 L702.3 214.2 L702.9 215.5 L703.6 215.9 L704.2 215.4 L704.9 213.2 L705.6 213.9 L706.2 211.7 L706.9 211.7 L707.5 210.9 L708.2 208.8 L708.9 207.8 L709.5 208.2 L710.2 208.2 L710.8 204.4 L711.5 204.0 L712.2 202.5 L712.8 201.0 L713.5 200.3 L714.1 197.2 L714.8 197.8 L715.5 196.0 L716.1 195.4 L716.8 188.3 L717.4 187.0 L718.1 188.3 L718.8 187.6 L719.4 187.5 L720.1 186.2 L720.7 182.5 L721.4 182.7 L722.0 182.2 L722.7 182.2 L723.4 187.6 L724.0 185.1 L724.7 187.0 L725.3 192.2 L726.0 194.7 L726.7 200.4 L727.3 204.7 L728.0 210.1 L728.6 212.8 L729.3 215.2 L730.0 221.4 L730.6 222.0 L731.3 226.0 L731.9 228.7 L732.6 232.6 L733.3 237.1 L733.9 238.7 L734.6 243.1 L735.2 246.2 L735.9 247.1 L736.6 248.0 L737.2 250.5 L737.9 253.4 L738.5 254.3 L739.2 254.0 L739.9 256.1 L740.5 257.3 L741.2 256.5 L741.8 254.5 L742.5 255.1 L743.2 255.5 L743.8 253.2 L744.5 255.3 L745.1 254.4 L745.8 253.3 L746.4 252.7 L747.1 249.4 L747.8 248.1 L748.4 245.8 L749.1 245.6 L749.7 242.8 L750.4 244.1 L751.1 240.3 L751.7 241.8 L752.4 243.0 L753.0 238.9 L753.7 241.1 L754.4 240.4 L755.0 240.3 L755.7 238.7 L756.3 241.3 L757.0 241.7 L757.7 239.7 L758.3 241.1 L759.0 237.7 L759.6 236.6 L760.3 232.8 L761.0 232.8 L761.6 231.0 L762.3 231.7 L762.9 229.6 L763.6 228.4 L764.3 227.5 L764.9 228.5 L765.6 228.0 L766.2 227.5 L766.9 228.7 L767.6 229.5 L768.2 227.5 L768.9 230.7 L769.5 233.1 L770.2 233.0 L770.9 232.7 L771.5 235.6 L772.2 235.1 L772.8 234.2 L773.5 235.1 L774.1 238.0 L774.8 237.6 L775.5 238.9 L776.1 244.3 L776.8 244.9 L777.4 245.5 L778.1 248.1 L778.8 249.3 L779.4 249.2 L780.1 255.1 L780.7 257.5 L781.4 257.4 L782.1 255.4 L782.7 261.3 L783.4 263.1 L784.0 261.5 L784.7 263.6 L785.4 266.1 L786.0 266.3 L786.7 269.5 L787.3 269.1 L788.0 272.0 L788.7 272.9 L789.3 271.3 L790.0 273.6 L790.6 279.5 L791.3 275.0 L792.0 276.4 L792.6 277.2 L793.3 276.7 L793.9 275.3 L794.6 273.3 L795.3 274.6 L795.9 271.4 L796.6 275.1 L797.2 276.4 L797.9 274.0 L798.5 277.4 L799.2 277.5 L799.9 277.7 L800.5 276.0 L801.2 276.9 L801.8 275.0 L802.5 280.1 L803.2 283.7 L803.8 285.7 L804.5 283.5 L805.1 288.8 L805.8 290.3 L806.5 292.1 L807.1 299.8 L807.8 297.8 L808.4 306.0 L809.1 308.8 L809.8 314.5 L810.4 319.1 L811.1 324.0 L811.7 325.4 L812.4 332.4 L813.1 343.6 L813.7 354.2 L814.4 361.5 L815.0 369.0 L815.7 376.7 L816.4 383.7 L817.0 396.2 L817.7 401.7 L818.3 408.1 L819.0 415.4 L819.7 420.7 L820.3 423.4 L821.0 429.8 L821.6 430.4 L822.3 433.4 L823.0 433.0 L823.6 437.1 L824.3 438.3 L824.9 441.2 L825.6 445.8 L826.2 443.7 L826.9 442.0 L827.6 446.1 L828.2 446.2 L828.9 448.4 L829.5 450.5 L830.2 453.8 L830.9 457.7 L831.5 459.2 L832.2 460.1 L832.8 462.8 L833.5 462.3 L834.2 463.8 L834.8 463.7 L835.5 468.2 L836.1 469.4 L836.8 468.9 L837.5 471.3 L838.1 474.8 L838.8 471.6 L839.4 467.4 L840.1 467.8 L840.8 468.1 L841.4 466.3 L842.1 466.0 L842.7 468.6 L843.4 467.7 L844.1 467.2 L844.7 469.8 L845.4 470.3 L846.0 471.5 L846.7 472.1 L847.4 470.8 L848.0 472.4 L848.7 474.3 L849.3 472.5 L850.0 470.9 L850.7 477.2 L851.3 474.9 L852.0 477.0 L852.6 481.6 L853.3 482.7 L853.9 486.2 L854.6 487.6 L855.3 490.4 L855.9 492.2 L856.6 494.7 L857.2 496.8 L857.9 498.8 L858.6 499.9 L859.2 502.1 L859.9 504.4 L860.5 506.3 L861.2 506.9 L861.9 508.6 L862.5 509.5 L863.2 510.6 L863.8 510.8 L864.5 510.1 L865.2 510.7 L865.8 510.5 L866.5 510.2 L867.1 509.7 L867.8 509.3 L868.5 508.7 L869.1 507.5 L869.8 507.3 L870.4 505.7 L871.1 503.7 L871.8 502.0 L872.4 499.3 L873.1 496.3 L873.7 495.1 L874.4 493.4 L875.1 491.8 L875.7 489.0 L876.4 485.1 L877.0 484.6 L877.7 482.9 L878.3 481.6 L879.0 481.8 L879.7 481.7 L880.3 480.4 L881.0 478.8 L881.6 477.6 L882.3 479.3 L883.0 478.8 L883.6 473.9 L884.3 476.2 L884.9 471.3 L885.6 472.8 L886.3 471.8 L886.9 473.6 L887.6 472.8 L888.2 472.8 L888.9 472.2 L889.6 468.2 L890.2 466.7 L890.9 469.5 L891.5 470.4 L892.2 468.9 L892.9 471.1 L893.5 472.5 L894.2 466.3 L894.8 467.5 L895.5 467.9 L896.2 463.1 L896.8 465.6 L897.5 464.3 L898.1 461.3 L898.8 463.9 L899.5 462.1 L900.1 459.6 L900.8 458.8 L901.4 455.8 L902.1 452.7 L902.8 450.0 L903.4 447.7 L904.1 445.6 L904.7 447.2 L905.4 449.0 L906.0 445.7 L906.7 451.4 L907.4 447.3 L908.0 444.8 L908.7 442.9 L909.3 444.0 L910.0 442.7 L910.7 440.4 L911.3 440.0 L912.0 437.8 L912.6 432.4 L913.3 428.1 L914.0 421.6 L914.6 416.9 L915.3 408.3 L915.9 398.8 L916.6 391.9 L917.3 385.6 L917.9 377.6 L918.6 370.6 L919.2 364.9 L919.9 357.7 L920.6 352.5 L921.2 348.1 L921.9 339.1 L922.5 330.1 L923.2 320.2 L923.9 312.1 L924.5 310.1 L925.2 307.4 L925.8 301.9 L926.5 296.5 L927.2 296.8 L927.8 295.4 L928.5 291.3 L929.1 292.4 L929.8 290.5 L930.5 288.6 L931.1 288.4 L931.8 291.0 L932.4 289.7 L933.1 288.0 L933.7 287.9 L934.4 289.9 L935.1 289.0 L935.7 288.3 L936.4 291.0 L937.0 288.5 L937.7 286.4 L938.4 288.8 L939.0 286.7 L939.7 286.0 L940.3 284.8 L941.0 283.2 L941.7 281.9 L942.3 281.7 L943.0 284.5 L943.6 281.6 L944.3 278.1 L945.0 270.5 L945.6 265.2 L946.3 265.0 L946.9 261.6 L947.6 256.8 L948.3 251.9 L948.9 253.7 L949.6 247.9 L950.2 247.7 L950.9 242.8 L951.6 244.9 L952.2 243.6 L952.9 242.2 L953.5 243.9 L954.2 243.1 L954.9 240.5 L955.5 240.2 L956.2 243.0 L956.8 240.1 L957.5 244.2 L958.1 246.3 L958.8 248.3 L959.5 249.5 L960.1 252.2 L960.8 254.7 L961.4 256.1 L962.1 257.1 L962.8 262.6 L963.4 262.0 L964.1 262.3 L964.7 262.6 L965.4 265.8 L966.1 265.9 L966.7 264.6 L967.4 265.2 L968.0 264.3 L968.7 261.2 L969.4 260.8 L970.0 258.0 L970.7 256.4 L971.3 257.6 L972.0 258.3 L972.7 251.8 L973.3 251.9 L974.0 253.0 L974.6 250.9 L975.3 252.8 L976.0 254.5 L976.6 251.6 L977.3 251.8 L977.9 254.4 L978.6 257.3 L979.3 257.5 L979.9 259.9 L980.6 257.0 L981.2 259.7 L981.9 259.1 L982.6 260.2 L983.2 260.2 L983.9 259.3 L984.5 260.8 L985.2 259.2 L985.8 260.3 L986.5 258.6 L987.2 258.7 L987.8 258.8 L988.5 258.7 L989.1 261.8 L989.8 259.9 L990.5 263.1 L991.1 264.9 L991.8 262.7 L992.4 265.8 L993.1 264.6 L993.8 263.0 L994.4 259.2 L995.1 260.7 L995.7 254.8 L996.4 256.1 L997.1 252.8 L997.7 251.2 L998.4 247.9 L999.0 249.9 L999.7 244.8 L1000.4 247.0 L1001.0 244.7 L1001.7 242.8 L1002.3 240.7 L1003.0 239.3 L1003.7 237.3 L1004.3 232.8 L1005.0 228.8 L1005.6 225.4 L1006.3 223.4 L1007.0 219.0 L1007.6 219.7 L1008.3 215.3 L1008.9 214.1 L1009.6 212.2 L1010.2 212.1 L1010.9 211.9 L1011.6 210.6 L1012.2 209.3 L1012.9 209.7 L1013.5 207.2 L1014.2 207.5 L1014.9 207.6 L1015.5 208.5 L1016.2 204.6 L1016.8 207.3 L1017.5 210.1 L1018.2 209.7 L1018.8 212.4 L1019.5 209.9 L1020.1 211.7 L1020.8 215.7 L1021.5 216.5 L1022.1 218.1 L1022.8 219.0 L1023.4 219.3 L1024.1 219.9 L1024.8 218.5 L1025.4 221.3 L1026.1 221.6 L1026.7 221.9 L1027.4 225.7 L1028.1 224.5 L1028.7 226.7 L1029.4 224.9 L1030.0 227.5 L1030.7 221.7 L1031.4 224.2 L1032.0 223.8 L1032.7 222.7 L1033.3 225.8 L1034.0 226.6 L1034.7 229.4 L1035.3 228.6 L1036.0 228.4 L1036.6 227.3 L1037.3 226.3 L1037.9 229.1 L1038.6 231.0 L1039.3 233.2 L1039.9 233.8 L1040.6 239.7 L1041.2 234.7 L1041.9 239.5 L1042.6 239.5 L1043.2 240.9 L1043.9 243.3 L1044.5 244.5 L1045.2 244.2 L1045.9 248.0 L1046.5 247.6 L1047.2 246.1 L1047.8 248.3 L1048.5 245.9 L1049.2 245.6 L1049.8 248.6 L1050.5 249.4 L1051.1 249.9 L1051.8 253.6 L1052.5 251.1 L1053.1 250.0 L1053.8 251.2 L1054.4 250.2 L1055.1 247.6 L1055.8 250.5 L1056.4 251.7 L1057.1 256.6 L1057.7 254.2 L1058.4 255.9 L1059.1 256.3 L1059.7 255.9 L1060.4 251.5 L1061.0 252.3 L1061.7 249.5 L1062.3 248.9 L1063.0 246.8 L1063.7 247.5 L1064.3 245.6 L1065.0 244.8 L1065.6 242.5 L1066.3 243.7 L1067.0 242.6 L1067.6 243.4 L1068.3 246.1 L1068.9 244.2 L1069.6 244.0 L1070.3 244.0 L1070.9 241.9 L1071.6 240.1 L1072.2 235.9 L1072.9 236.6 L1073.6 233.8 L1074.2 232.9 L1074.9 234.4 L1075.5 235.0 L1076.2 229.8 L1076.9 230.2 L1077.5 228.1 L1078.2 224.2 L1078.8 223.7 L1079.5 222.0 L1080.2 221.0 L1080.8 218.7 L1081.5 216.3 L1082.1 215.6 L1082.8 215.4 L1083.5 214.1 L1084.1 211.5 L1084.8 210.1 L1085.4 207.3 L1086.1 207.1 L1086.8 206.8 L1087.4 207.3 L1088.1 205.7 L1088.7 207.0 L1089.4 206.4 L1090.0 209.5 L1090.7 204.0 L1091.4 207.8 L1092.0 210.6 L1092.7 208.8 L1093.3 206.6 L1094.0 210.3 L1094.7 209.2 L1095.3 211.6 L1096.0 213.5 L1096.6 215.6 L1097.3 214.5 L1098.0 215.2 L1098.6 217.0 L1099.3 217.6 L1099.9 216.9 L1100.6 218.4 L1101.3 219.1 L1101.9 219.1 L1102.6 220.7 L1103.2 222.3 L1103.9 221.7 L1104.6 223.3 L1105.2 225.5 L1105.9 226.4 L1106.5 228.3 L1107.2 232.4 L1107.9 234.8 L1108.5 236.3 L1109.2 235.2 L1109.8 237.1 L1110.5 240.1 L1111.2 238.1 L1111.8 240.2 L1112.5 239.1 L1113.1 240.8 L1113.8 240.9 L1114.5 243.0 L1115.1 240.7 L1115.8 242.8 L1116.4 242.3 L1117.1 240.8 L1117.7 240.9 L1118.4 238.5 L1119.1 236.4 L1119.7 234.5 L1120.4 231.4 L1121.0 229.0 L1121.7 225.8 L1122.4 220.6 L1123.0 223.0 L1123.7 220.5 L1124.3 215.4 L1125.0 212.6 L1125.7 211.6 L1126.3 209.8 L1127.0 205.0 L1127.6 208.4 L1128.3 205.5 L1129.0 206.8 L1129.6 206.6 L1130.3 205.8 L1130.9 200.2 L1131.6 202.2 L1132.3 201.8 L1132.9 200.1 L1133.6 199.8 L1134.2 200.0 L1134.9 196.0 L1135.6 195.2 L1136.2 193.4 L1136.9 196.1 L1137.5 191.7 L1138.2 197.0 L1138.9 193.8 L1139.5 194.4 L1140.2 188.8 L1140.8 189.7 L1141.5 188.6 L1142.1 189.1 L1142.8 186.3 L1143.5 188.2 L1144.1 185.9 L1144.8 187.2 L1145.4 184.1 L1146.1 184.2 L1146.8 183.5 L1147.4 188.3 L1148.1 189.3 L1148.7 192.5 L1149.4 197.0 L1150.1 196.6 L1150.7 197.8 L1151.4 196.5 L1152.0 197.7 L1152.7 195.8 L1153.4 198.9 L1154.0 198.5 L1154.7 198.8 L1155.3 200.8 L1156.0 206.3 L1156.7 207.7 L1157.3 208.3 L1158.0 212.5 L1158.6 212.2 L1159.3 214.3 L1160.0 216.5 L1160.6 215.7 L1161.3 218.9 L1161.9 221.3 L1162.6 224.4 L1163.3 225.7 L1163.9 224.5 L1164.6 228.3 L1165.2 228.5 L1165.9 231.9 L1166.6 233.1 L1167.2 235.1 L1167.9 235.6 L1168.5 236.4 L1169.2 236.8 L1169.8 239.1 L1170.5 239.8 L1171.2 236.5 L1171.8 240.6 L1172.5 236.7 L1173.1 236.5 L1173.8 238.4 L1174.5 239.1 L1175.1 237.8 L1175.8 235.2 L1176.4 233.0 L1177.1 230.4 L1177.8 232.2 L1178.4 229.1 L1179.1 229.2 L1179.7 226.0 L1180.4 225.6 L1181.1 223.9 L1181.7 222.9 L1182.4 219.7 L1183.0 220.0 L1183.7 220.7 L1184.4 215.6 L1185.0 214.3 L1185.7 214.3 L1186.3 217.0 L1187.0 217.8 L1187.7 215.3 L1188.3 218.7 L1189.0 218.3 L1189.6 217.4 L1190.3 216.7 L1191.0 219.3 L1191.6 220.2 L1192.3 222.8 L1192.9 224.4 L1193.6 218.8 L1194.2 221.9 L1194.9 220.8 L1195.6 221.3 L1196.2 220.5 L1196.9 219.7 L1197.5 220.8 L1198.2 218.8 L1198.9 219.3 L1199.5 225.9 L1200.2 227.0 L1200.8 223.7 L1201.5 225.9 L1202.2 223.0 L1202.8 218.3 L1203.5 220.5 L1204.1 217.1 L1204.8 218.0 L1205.5 215.4 L1206.1 214.6 L1206.8 214.8 L1207.4 215.4 L1208.1 218.4 L1208.8 216.8 L1209.4 214.9 L1210.1 219.7 L1210.7 217.8 L1211.4 213.8 L1212.1 210.3 L1212.7 206.6 L1213.4 204.0 L1214.0 205.0 L1214.7 203.8 L1215.4 198.9 L1216.0 200.5 L1216.7 198.3 L1217.3 197.9 L1218.0 197.3 L1218.7 197.1 L1219.3 192.4 L1220.0 193.0 L1220.6 193.5 L1221.3 192.3 L1221.9 194.1 L1222.6 192.3 L1223.3 195.8 L1223.9 193.7 L1224.6 195.1 L1225.2 195.4 L1225.9 193.5 L1226.6 192.1 L1227.2 193.7 L1227.9 194.8 L1228.5 192.4 L1229.2 193.3 L1229.9 191.4 L1230.5 189.4 L1231.2 194.1 L1231.8 190.8 L1232.5 188.8 L1233.2 189.5 L1233.8 190.3 L1234.5 186.5 L1235.1 187.2 L1235.8 188.3 L1236.5 186.1 L1237.1 185.5 L1237.8 184.1 L1238.4 181.4 L1239.1 179.7 L1239.8 179.4 L1240.4 179.9 L1241.1 181.0 L1241.7 182.1 L1242.4 181.8 L1243.1 184.4 L1243.7 187.7 L1244.4 183.4 L1245.0 183.9 L1245.7 183.1 L1246.4 181.8 L1247.0 178.9 L1247.7 178.0 L1248.3 180.2 L1249.0 177.7 L1249.6 177.4 L1250.3 174.6 L1251.0 176.4 L1251.6 175.8 L1252.3 173.6 L1252.9 172.9 L1253.6 176.6 L1254.3 171.6 L1254.9 175.3 L1255.6 175.2 L1256.2 176.3 L1256.9 177.5 L1257.6 181.3 L1258.2 183.6 L1258.9 185.5 L1259.5 188.0 L1260.2 193.0 L1260.9 197.1 L1261.5 199.2 L1262.2 200.4 L1262.8 206.9 L1263.5 204.9 L1264.2 207.1 L1264.8 207.8 L1265.5 209.7 L1266.1 212.7 L1266.8 215.8 L1267.5 218.7 L1268.1 218.0 L1268.8 217.8 L1269.4 223.8 L1270.1 221.4 L1270.8 222.8 L1271.4 223.4 L1272.1 222.9 L1272.7 223.0 L1273.4 221.7 L1274.0 224.2 L1274.7 228.5 L1275.4 229.8 L1276.0 230.6 L1276.7 228.4 L1277.3 225.6 L1278.0 225.8 L1278.7 224.4 L1279.3 225.2 L1280.0 223.3 L1280.6 226.6 L1281.3 222.9 L1282.0 223.5 L1282.6 225.7 L1283.3 226.8 L1283.9 225.3 L1284.6 229.8 L1285.3 233.6 L1285.9 231.7 L1286.6 230.8 L1287.2 230.1 L1287.9 227.1 L1288.6 228.2 L1289.2 225.6 L1289.9 226.0 L1290.5 224.6 L1291.2 220.5 L1291.9 222.6 L1292.5 223.4 L1293.2 224.6 L1293.8 225.4 L1294.5 228.9 L1295.2 228.0 L1295.8 231.7 L1296.5 230.1 L1297.1 228.7 L1297.8 233.6 L1298.5 235.8 L1299.1 235.5 L1299.8 233.3 L1300.4 237.7 L1301.1 234.2 L1301.7 237.6 L1302.4 235.4 L1303.1 237.4 L1303.7 237.3 L1304.4 241.9 L1305.0 241.1 L1305.7 239.0 L1306.4 236.8 L1307.0 237.5 L1307.7 238.4 L1308.3 235.1 L1309.0 237.3 L1309.7 240.2 L1310.3 242.0 L1311.0 240.3 L1311.6 241.8 L1312.3 237.7 L1313.0 235.8 L1313.6 237.4 L1314.3 235.7 L1314.9 235.3 L1315.6 234.4 L1316.3 234.4 L1316.9 232.4 L1317.6 235.3 L1318.2 234.9 L1318.9 236.5 L1319.6 236.7 L1320.2 238.0 L1320.9 236.7 L1321.5 233.1 L1322.2 233.1 L1322.9 235.8 L1323.5 234.2 L1324.2 236.1 L1324.8 236.9 L1325.5 235.4 L1326.2 236.3 L1326.8 237.1 L1327.5 238.3 L1328.1 235.1 L1328.8 234.8 L1329.4 230.0 L1330.1 230.1 L1330.8 226.1 L1331.4 222.4 L1332.1 228.0 L1332.7 227.6 L1333.4 229.2 L1334.1 229.4 L1334.7 231.0 L1335.4 231.7 L1336.0 231.1 L1336.7 230.8 L1337.4 231.8 L1338.0 232.2 L1338.7 232.5 L1339.3 234.4 L1340.0 234.2 L1340.7 235.3 L1341.3 234.2 L1342.0 230.4 L1342.6 229.4 L1343.3 226.3 L1344.0 225.2 L1344.6 223.1 L1345.3 221.4 L1345.9 223.3 L1346.6 221.2 L1347.3 223.5 L1347.9 221.3 L1348.6 220.0 L1349.2 219.8 L1349.9 221.6 L1350.6 219.8 L1351.2 223.5 L1351.9 224.5 L1352.5 227.6 L1353.2 223.9 L1353.8 226.9 L1354.5 228.1 L1355.2 231.0 L1355.8 230.3 L1356.5 232.5 L1357.1 229.1 L1357.8 228.3 L1358.5 230.0 L1359.1 225.2 L1359.8 227.8 L1360.4 223.6 L1361.1 224.4 L1361.8 221.9 L1362.4 225.0 L1363.1 224.4 L1363.7 226.7 L1364.4 223.6 L1365.1 223.5 L1365.7 220.7 L1366.4 219.3 L1367.0 218.3 L1367.7 216.6 L1368.4 215.2 L1369.0 214.7 L1369.7 215.5 L1370.3 215.4 L1371.0 214.9 L1371.7 212.9 L1372.3 216.2 L1373.0 212.7 L1373.6 211.8 L1374.3 212.3 L1375.0 211.6 L1375.6 213.5 L1376.3 214.9 L1376.9 208.4 L1377.6 213.9 L1378.3 214.8 L1378.9 213.3 L1379.6 210.6 L1380.2 212.9 L1380.9 211.1 L1381.5 210.8 L1382.2 206.7 L1382.9 205.2 L1383.5 204.0 L1384.2 204.9 L1384.8 205.5 L1385.5 201.8 L1386.2 200.0 L1386.8 196.1 L1387.5 200.8 L1388.1 199.8 L1388.8 200.9 L1389.5 200.3 L1390.1 203.5 L1390.8 200.9 L1391.4 203.8 L1392.1 205.6 L1392.8 207.0 L1393.4 209.4 L1394.1 209.9 L1394.7 212.1 L1395.4 212.6 L1396.1 211.8 L1396.7 215.8 L1397.4 218.2 L1398.0 221.5 L1398.7 222.8 L1399.4 226.0 L1400.0 226.7 L1400.7 225.5 L1401.3 227.9 L1402.0 230.2 L1402.7 236.0 L1403.3 238.0 L1404.0 239.1 L1404.6 239.6 L1405.3 238.8 L1405.9 240.8 L1406.6 242.0 L1407.3 242.0 L1407.9 240.6 L1408.6 237.9 L1409.2 239.9 L1409.9 236.6 L1410.6 234.6 L1411.2 235.0 L1411.9 235.9 L1412.5 236.5 L1413.2 235.7 L1413.9 236.2 L1414.5 239.9 L1415.2 239.4 L1415.8 238.7 L1416.5 241.1 L1417.2 241.1 L1417.8 236.7 L1418.5 233.3 L1419.1 234.4 L1419.8 233.4 L1420.5 230.4 L1421.1 228.7 L1421.8 230.1 L1422.4 236.0 L1423.1 233.5 L1423.8 235.8 L1424.4 237.7 L1425.1 234.7 L1425.7 235.3 L1426.4 235.8 L1427.1 237.7 L1427.7 237.8 L1428.4 240.5 L1429.0 238.8 L1429.7 239.7 L1430.4 238.9 L1431.0 237.7 L1431.7 239.8 L1432.3 235.2 L1433.0 236.3 L1433.6 235.5 L1434.3 232.6 L1435.0 233.1 L1435.6 231.4 L1436.3 231.0 L1436.9 230.2 L1437.6 229.9 L1438.3 229.1 L1438.9 231.4 L1439.6 229.1 L1440.2 229.8 L1440.9 229.4 L1441.6 227.4 L1442.2 228.0 L1442.9 228.7 L1443.5 228.2 L1444.2 229.6 L1444.9 226.9 L1445.5 231.3 L1446.2 229.1 L1446.8 228.4 L1447.5 231.0 L1448.2 228.7 L1448.8 230.5 L1449.5 227.6 L1450.1 227.6 L1450.8 228.2 L1451.5 228.6 L1452.1 224.0 L1452.8 222.2 L1453.4 219.6 L1454.1 218.2 L1454.8 215.0 L1455.4 214.9 L1456.1 214.9 L1456.7 210.9 L1457.4 211.7 L1458.0 211.5 L1458.7 209.9 L1459.4 209.2 L1460.0 209.2 L1460.7 209.5 L1461.3 210.8 L1462.0 207.8 L1462.7 208.2 L1463.3 208.8 L1464.0 208.6 L1464.6 207.7 L1465.3 210.9 L1466.0 210.3 L1466.6 211.0 L1467.3 212.1 L1467.9 213.1 L1468.6 216.2 L1469.3 216.7 L1469.9 218.9 L1470.6 223.0 L1471.2 221.7 L1471.9 221.5 L1472.6 221.0 L1473.2 219.6 L1473.9 219.5 L1474.5 220.6 L1475.2 222.3 L1475.9 222.1 L1476.5 225.6 L1477.2 224.6 L1477.8 225.3 L1478.5 228.3 L1479.2 226.9 L1479.8 231.5 L1480.5 228.3 L1481.1 229.9 L1481.8 229.5 L1482.5 229.0 L1483.1 228.6 L1483.8 227.5 L1484.4 231.6 L1485.1 231.8 L1485.7 233.9 L1486.4 229.3 L1487.1 231.5 L1487.7 230.2 L1488.4 231.6 L1489.0 228.4 L1489.7 228.1 L1490.4 227.7 L1491.0 224.9 L1491.7 223.9 L1492.3 220.7 L1493.0 223.6 L1493.7 220.2 L1494.3 223.6 L1495.0 218.9 L1495.6 220.5 L1496.3 218.1 L1497.0 219.3 L1497.6 221.0 L1498.3 218.8 L1498.9 217.7 L1499.6 220.6 L1500.3 215.6 L1500.9 215.1 L1501.6 218.0 L1502.2 217.3 L1502.9 211.0 L1503.6 213.9 L1504.2 212.0 L1504.9 213.4 L1505.5 212.3 L1506.2 210.0 L1506.9 211.9 L1507.5 208.4 L1508.2 212.7 L1508.8 210.9 L1509.5 210.5 L1510.2 208.2 L1510.8 208.6 L1511.5 203.7 L1512.1 205.5 L1512.8 203.2 L1513.4 205.4 L1514.1 202.7 L1514.8 201.0 L1515.4 204.6 L1516.1 204.9 L1516.7 205.1 L1517.4 209.9 L1518.1 208.4 L1518.7 208.7 L1519.4 207.2 L1520.0 206.5 L1520.7 212.1 L1521.4 214.1 L1522.0 212.1 L1522.7 212.9 L1523.3 215.0 L1524.0 212.5" fill="none" stroke="#006400" stroke-width="6.94" stroke-linejoin="round" stroke-linecap="square"/>
<rect x="172.0" y="8.9" width="1385.0" height="625.1" fill="none" stroke="#000" stroke-width="4.17"/>
<rect x="158" y="621" width="12" height="4" fill="#555555"/>
<text x="153.1" y="634.7" text-anchor="end" fill="#555555">0.51</text>
<rect x="158" y="398" width="12" height="4" fill="#555555"/>
<text x="153.1" y="411.7" text-anchor="end" fill="#555555">0.71</text>
<rect x="158" y="175" width="12" height="4" fill="#555555"/>
<text x="153.1" y="187.9" text-anchor="end" fill="#555555">0.91</text>
<rect x="203" y="636" width="4" height="12" fill="#555555"/>
<text x="204.60" y="676.2" text-anchor="middle" fill="#555555">-1000 bp</text>
<rect x="533" y="636" width="4" height="12" fill="#555555"/>
<text x="534.35" y="676.2" text-anchor="middle" fill="#555555">-500 bp</text>
<rect x="862" y="636" width="4" height="12" fill="#555555"/>
<text x="864.10" y="676.2" text-anchor="middle" fill="#555555">0</text>
<rect x="1192" y="636" width="4" height="12" fill="#555555"/>
<text x="1193.85" y="676.2" text-anchor="middle" fill="#555555">+500 bp</text>
<rect x="1522" y="636" width="4" height="12" fill="#555555"/>
<text x="1523.60" y="676.2" text-anchor="middle" fill="#555555">+1000 bp</text>
<text x="205.2" y="740.6" text-anchor="middle" fill="#555555">5’</text>
<text x="1524" y="740.6" text-anchor="middle" fill="#555555">3’</text>
<text x="864" y="740.6" text-anchor="middle" fill="#555555">Somatic Mutations Location</text>
<text transform="translate(31,379.64) rotate(-90)" dx="0 -0.7" letter-spacing="-0.3" fill="#555555">Average</text>
<text transform="translate(63.2,455.2) rotate(-90)" letter-spacing="-0.06" fill="#555555">Nucleosome Signal</text>
<text x="186.4" y="56.9" fill="#000">ID2</text>
<text x="1543.5" y="56.8" text-anchor="end" fill="#000">Bladder-TCC</text>
<line x1="197.5" y1="552.5" x2="253.1" y2="552.5" stroke="#006400" stroke-width="6.94" stroke-linecap="square"/>
<text x="275.3" y="562.2" fill="#000">Real Indels</text>
<line x1="197.5" y1="594.5" x2="254" y2="594.5" stroke="#808080" stroke-width="6.94" stroke-dasharray="25.7 11.1"/>
<text x="275.3" y="604.2" fill="#000">Simulated Indels</text>
</svg>
</body></html>
